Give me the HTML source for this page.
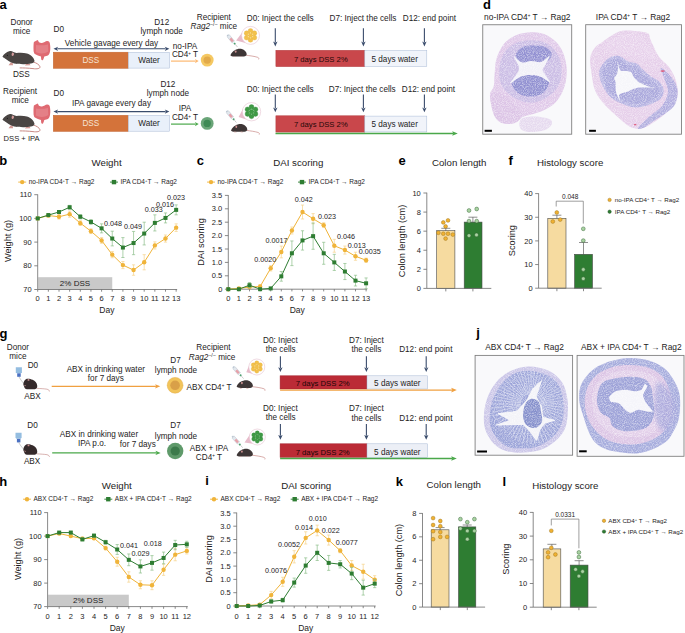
<!DOCTYPE html>
<html><head><meta charset="utf-8"><style>
html,body{margin:0;padding:0;background:#fff;width:685px;height:633px;overflow:hidden}
svg{display:block;font-family:"Liberation Sans",sans-serif}
</style></head><body>
<svg width="685" height="633" viewBox="0 0 685 633">
<defs><filter id="soft" x="-5%" y="-5%" width="110%" height="110%" color-interpolation-filters="sRGB"><feTurbulence type="fractalNoise" baseFrequency="1.1" numOctaves="1" seed="7" result="n"/><feColorMatrix in="n" type="matrix" values="0 0 0 0 1  0 0 0 0 1  0 0 0 0 1  0 0 0 -1.3 0.8" result="w"/><feComposite in="w" in2="SourceGraphic" operator="in" result="wc"/><feMerge result="m"><feMergeNode in="SourceGraphic"/><feMergeNode in="wc"/></feMerge><feGaussianBlur in="m" stdDeviation="0.35"/></filter><filter id="blur2" x="-20%" y="-20%" width="140%" height="140%"><feGaussianBlur stdDeviation="2.2"/></filter></defs>
<rect width="685" height="633" fill="#fff"/>
<text x="-0.60" y="9.00" font-size="13" text-anchor="start" font-weight="bold" fill="#000">a</text>
<text x="21.70" y="24.50" font-size="8.2" text-anchor="middle" fill="#1e1c1c">Donor</text>
<text x="21.70" y="33.50" font-size="8.2" text-anchor="middle" fill="#1e1c1c">mice</text>
<g transform="translate(0.00,45.00) scale(1.0)"><path d="M33.5,17 C36.5,18 39.5,19.8 40,21.8 C40.3,23.6 37,24.2 33,23.6 C28,23 23,22.9 19.7,22.9" fill="none" stroke="#c98a86" stroke-width="1.0"/><path d="M10.8,17.3 L8.5,20.2 L13,20.2 L12.8,18 Z M26,18.8 L25,20.4 L30.5,20.3 L29.5,18.6 Z" fill="#d39b96"/><path d="M2.6,11.2 C4,9 7,6.5 9.9,6.0 C12,5.5 14,7.6 16.4,7.9 C20,7.6 24,7.6 27,8.4 C31,9.5 34,12.5 34.5,15.8 C34.4,17.6 32.5,18.4 31,18.6 C28,19.2 25,19.3 23,19.2 C20,19.1 17.5,19 16,18.8 C13.5,18.3 11.5,17.6 10.3,17 C8,15.8 5.5,14 4,12.8 C3,12.4 2.4,11.8 2.6,11.2 Z" fill="#4a4543"/><ellipse cx="12.8" cy="9.3" rx="1.2" ry="1.7" fill="#d49c9c" transform="rotate(15 12.8 9.3)"/><circle cx="7.4" cy="10.2" r="0.55" fill="#111"/></g>
<g transform="translate(0.00,0.00)"><path d="M33.9,42.1 C35,41 36.5,40.8 37.5,40 C38.5,40.5 38.5,41.8 39,42.3 C40,42.8 41,43 42,42.9 C44,42.5 45.5,41.3 47,41 C48.5,40.8 49.5,41.8 49.8,43 C50.3,45.5 50.5,48.5 50.1,50.8 C49.8,52.8 49.3,54.5 48.2,55.3 C47,56 45.5,56.2 44.3,56.4 C44,57.5 43.6,59 43,60 C42.3,60.4 41.6,60.2 41.3,59.6 C41.1,58.5 41,57.3 41,56.4 C40,56.2 38.8,55.9 37.9,55.6 C36.5,55 35,54.5 34.3,53.6 C33.6,52 33.4,50.5 33.5,48.8 C33.5,46.5 33.5,44 33.9,42.1 Z" fill="#df6a72"/><path d="M36,45 C39,45.5 44,45.5 48,44.5 L48.3,51.5 C45,54 39,54 35.8,52 Z" fill="#ec9ca2" opacity="0.45"/></g>
<text x="21.30" y="77.00" font-size="8.2" text-anchor="middle" fill="#1e1c1c">DSS</text>
<text x="53.50" y="32.00" font-size="8.2" text-anchor="start" fill="#1e1c1c">D0</text>
<text x="111.50" y="45.50" font-size="8.2" text-anchor="middle" fill="#1e1c1c">Vehicle gavage every day</text>
<line x1="57.30" y1="48.80" x2="165.60" y2="48.80" stroke="#3a4c6c" stroke-width="1.1"/>
<path d="M169.40,48.80 L164.80,46.70 L166.00,48.80 L164.80,50.90 Z" fill="#3a4c6c"/>
<path d="M53.50,48.80 L58.10,46.70 L56.90,48.80 L58.10,50.90 Z" fill="#3a4c6c"/>
<rect x="53.30" y="52.20" width="75.00" height="16.10" fill="#d4733a" stroke="#c0622e" stroke-width="0.5"/>
<text x="90.80" y="63.00" font-size="8.2" text-anchor="middle" fill="#f6e3d4">DSS</text>
<rect x="128.30" y="52.30" width="41.30" height="15.80" fill="#e9f0fa" stroke="#a9bad6" stroke-width="0.5"/>
<text x="149.00" y="63.00" font-size="8.2" text-anchor="middle" fill="#1e1c1c">Water</text>
<text x="161.70" y="24.80" font-size="8.2" text-anchor="middle" fill="#1e1c1c">D12</text>
<text x="161.70" y="33.50" font-size="8.2" text-anchor="middle" fill="#1e1c1c">lymph node</text>
<text x="185.00" y="48.90" font-size="8.2" text-anchor="middle" fill="#1e1c1c">no-IPA</text>
<text x="185.00" y="57.30" font-size="8.2" text-anchor="middle" fill="#1e1c1c">CD4<tspan dy="-2.6" font-size="4.5">+</tspan><tspan dy="2.6"> T</tspan></text>
<line x1="171.00" y1="61.10" x2="195.70" y2="61.10" stroke="#fdb870" stroke-width="1.2"/>
<path d="M198.70,61.10 L194.90,59.01 L195.90,61.10 L194.90,63.19 Z" fill="#fdb870"/>
<circle cx="207.20" cy="60.10" r="6.40" fill="#f5c862" stroke="none" stroke-width="0.5"/>
<circle cx="207.20" cy="60.10" r="3.70" fill="#e2aa4a" stroke="none" stroke-width="0.5"/>
<text x="213.80" y="19.90" font-size="8.2" text-anchor="middle" fill="#1e1c1c">Recipient</text>
<text x="213.80" y="29.10" font-size="8.2" text-anchor="middle" fill="#1e1c1c"><tspan font-style="italic">Rag2</tspan><tspan dy="-3" font-size="5.2">−/−</tspan><tspan dy="3"> mice</tspan></text>
<g transform="translate(227.40,34.80) rotate(50.5)"><rect x="0" y="-1.0" width="1.2" height="2.0" fill="#b8c4d0"/><rect x="1.2" y="-1.5" width="8.19" height="3" fill="#e2e8ee" stroke="#9aa8b8" stroke-width="0.3"/><rect x="4.62" y="-1.2" width="3.96" height="2.4" fill="#e6a0a8"/><rect x="10.57" y="-0.9" width="1.59" height="1.8" fill="#4aa070"/><line x1="11.89" y1="0" x2="15.86" y2="0" stroke="#8a8a8a" stroke-width="0.4"/></g>
<g transform="translate(230.40,55.20) scale(1.0)"><path d="M15.5,0 C19,0.5 24,1 27.5,2.2 C28.5,2.7 28.6,3.5 28.2,4.2" fill="none" stroke="#c98a86" stroke-width="0.7"/><path d="M0,0 C1,-2.5 2.5,-4 4.5,-5 C6.5,-6.3 9,-6.8 11.5,-6.2 C14,-5.5 16,-3.5 16.3,-1.2 C16.4,0.3 15,1.2 13.5,1.3 L4,1.3 C2,1.2 0.3,0.8 0,0 Z" fill="#3e3636"/><ellipse cx="5.3" cy="-3.6" rx="0.9" ry="1.2" fill="#c98f8f"/><path d="M3.5,1.2 L3,1.9 L6,1.9 Z M10,1.2 L9.6,1.9 L12.6,1.9 Z" fill="#c98a86"/></g>
<path d="M236.10,40.50 L242.40,32.25 L245.55,43.05 Z" fill="#e7bccb"/>
<circle cx="250.50" cy="35.40" r="9.00" fill="#fff" stroke="#e6c3d0" stroke-width="0.6"/>
<circle cx="250.50" cy="35.40" r="2.43" fill="#f3c14b" stroke="#e0aa35" stroke-width="0.3"/>
<circle cx="254.39" cy="37.65" r="2.43" fill="#f3c14b" stroke="#e0aa35" stroke-width="0.3"/>
<circle cx="250.50" cy="39.90" r="2.43" fill="#f3c14b" stroke="#e0aa35" stroke-width="0.3"/>
<circle cx="246.61" cy="37.65" r="2.43" fill="#f3c14b" stroke="#e0aa35" stroke-width="0.3"/>
<circle cx="246.61" cy="33.15" r="2.43" fill="#f3c14b" stroke="#e0aa35" stroke-width="0.3"/>
<circle cx="250.50" cy="30.90" r="2.43" fill="#f3c14b" stroke="#e0aa35" stroke-width="0.3"/>
<circle cx="254.39" cy="33.15" r="2.43" fill="#f3c14b" stroke="#e0aa35" stroke-width="0.3"/>
<circle cx="252.64" cy="36.64" r="0.61" fill="#fbe3a0" stroke="none" stroke-width="0.5"/>
<circle cx="250.50" cy="37.87" r="0.61" fill="#fbe3a0" stroke="none" stroke-width="0.5"/>
<circle cx="248.36" cy="36.64" r="0.61" fill="#fbe3a0" stroke="none" stroke-width="0.5"/>
<circle cx="248.36" cy="34.16" r="0.61" fill="#fbe3a0" stroke="none" stroke-width="0.5"/>
<circle cx="250.50" cy="32.93" r="0.61" fill="#fbe3a0" stroke="none" stroke-width="0.5"/>
<circle cx="252.64" cy="34.16" r="0.61" fill="#fbe3a0" stroke="none" stroke-width="0.5"/>
<text x="246.80" y="21.30" font-size="8.2" text-anchor="start" fill="#1e1c1c">D0: Inject the cells</text>
<text x="329.50" y="21.30" font-size="8.2" text-anchor="start" fill="#1e1c1c">D7: Inject the cells</text>
<text x="402.80" y="21.30" font-size="8.2" text-anchor="start" fill="#1e1c1c">D12: end point</text>
<line x1="275.30" y1="28.30" x2="275.30" y2="42.40" stroke="#3a4c6c" stroke-width="1.1"/>
<path d="M275.30,46.40 L273.10,41.60 L275.30,42.80 L277.50,41.60 Z" fill="#3a4c6c"/>
<line x1="363.40" y1="28.30" x2="363.40" y2="42.40" stroke="#3a4c6c" stroke-width="1.1"/>
<path d="M363.40,46.40 L361.20,41.60 L363.40,42.80 L365.60,41.60 Z" fill="#3a4c6c"/>
<line x1="424.40" y1="28.30" x2="424.40" y2="42.40" stroke="#3a4c6c" stroke-width="1.1"/>
<path d="M424.40,46.40 L422.20,41.60 L424.40,42.80 L426.60,41.60 Z" fill="#3a4c6c"/>
<rect x="275.90" y="50.30" width="88.90" height="16.30" fill="#c9474b" stroke="#b23a3c" stroke-width="0.5"/>
<text x="320.80" y="61.60" font-size="7.7" text-anchor="middle" fill="#1e0808">7 days DSS 2%</text>
<rect x="364.80" y="50.60" width="62.00" height="15.80" fill="#f1f4fa" stroke="#a9bad6" stroke-width="0.5"/>
<text x="394.70" y="61.60" font-size="8.2" text-anchor="middle" fill="#1e1c1c">5 days water</text>
<text x="20.10" y="94.30" font-size="8.2" text-anchor="middle" fill="#1e1c1c">Recipient</text>
<text x="20.30" y="103.40" font-size="8.2" text-anchor="middle" fill="#1e1c1c">mice</text>
<g transform="translate(0.00,108.00) scale(1.0)"><path d="M33.5,17 C36.5,18 39.5,19.8 40,21.8 C40.3,23.6 37,24.2 33,23.6 C28,23 23,22.9 19.7,22.9" fill="none" stroke="#c98a86" stroke-width="1.0"/><path d="M10.8,17.3 L8.5,20.2 L13,20.2 L12.8,18 Z M26,18.8 L25,20.4 L30.5,20.3 L29.5,18.6 Z" fill="#d39b96"/><path d="M2.6,11.2 C4,9 7,6.5 9.9,6.0 C12,5.5 14,7.6 16.4,7.9 C20,7.6 24,7.6 27,8.4 C31,9.5 34,12.5 34.5,15.8 C34.4,17.6 32.5,18.4 31,18.6 C28,19.2 25,19.3 23,19.2 C20,19.1 17.5,19 16,18.8 C13.5,18.3 11.5,17.6 10.3,17 C8,15.8 5.5,14 4,12.8 C3,12.4 2.4,11.8 2.6,11.2 Z" fill="#4a4543"/><ellipse cx="12.8" cy="9.3" rx="1.2" ry="1.7" fill="#d49c9c" transform="rotate(15 12.8 9.3)"/><circle cx="7.4" cy="10.2" r="0.55" fill="#111"/></g>
<g transform="translate(0.00,63.50)"><path d="M33.9,42.1 C35,41 36.5,40.8 37.5,40 C38.5,40.5 38.5,41.8 39,42.3 C40,42.8 41,43 42,42.9 C44,42.5 45.5,41.3 47,41 C48.5,40.8 49.5,41.8 49.8,43 C50.3,45.5 50.5,48.5 50.1,50.8 C49.8,52.8 49.3,54.5 48.2,55.3 C47,56 45.5,56.2 44.3,56.4 C44,57.5 43.6,59 43,60 C42.3,60.4 41.6,60.2 41.3,59.6 C41.1,58.5 41,57.3 41,56.4 C40,56.2 38.8,55.9 37.9,55.6 C36.5,55 35,54.5 34.3,53.6 C33.6,52 33.4,50.5 33.5,48.8 C33.5,46.5 33.5,44 33.9,42.1 Z" fill="#df6a72"/><path d="M36,45 C39,45.5 44,45.5 48,44.5 L48.3,51.5 C45,54 39,54 35.8,52 Z" fill="#ec9ca2" opacity="0.45"/></g>
<text x="21.60" y="140.70" font-size="7.6" text-anchor="middle" fill="#1e1c1c">DSS + IPA</text>
<text x="53.50" y="96.00" font-size="8.2" text-anchor="start" fill="#1e1c1c">D0</text>
<text x="111.50" y="106.00" font-size="8.2" text-anchor="middle" fill="#1e1c1c">IPA gavage every day</text>
<line x1="57.30" y1="111.60" x2="165.60" y2="111.60" stroke="#3a4c6c" stroke-width="1.1"/>
<path d="M169.40,111.60 L164.80,109.50 L166.00,111.60 L164.80,113.70 Z" fill="#3a4c6c"/>
<path d="M53.50,111.60 L58.10,109.50 L56.90,111.60 L58.10,113.70 Z" fill="#3a4c6c"/>
<rect x="53.30" y="115.30" width="75.00" height="16.10" fill="#d4733a" stroke="#c0622e" stroke-width="0.5"/>
<text x="90.80" y="126.10" font-size="8.2" text-anchor="middle" fill="#f6e3d4">DSS</text>
<rect x="128.30" y="115.40" width="41.30" height="15.80" fill="#e9f0fa" stroke="#a9bad6" stroke-width="0.5"/>
<text x="149.00" y="126.10" font-size="8.2" text-anchor="middle" fill="#1e1c1c">Water</text>
<text x="167.90" y="86.90" font-size="8.2" text-anchor="middle" fill="#1e1c1c">D12</text>
<text x="167.90" y="96.00" font-size="8.2" text-anchor="middle" fill="#1e1c1c">lymph node</text>
<text x="185.00" y="111.40" font-size="8.2" text-anchor="middle" fill="#1e1c1c">IPA</text>
<text x="185.00" y="120.10" font-size="8.2" text-anchor="middle" fill="#1e1c1c">CD4<tspan dy="-2.6" font-size="4.5">+</tspan><tspan dy="2.6"> T</tspan></text>
<line x1="171.00" y1="124.10" x2="195.70" y2="124.10" stroke="#4aa84a" stroke-width="1.2"/>
<path d="M198.70,124.10 L194.90,122.01 L195.90,124.10 L194.90,126.19 Z" fill="#4aa84a"/>
<circle cx="207.20" cy="123.40" r="6.40" fill="#6aa578" stroke="none" stroke-width="0.5"/>
<circle cx="207.20" cy="123.40" r="3.70" fill="#3f8a55" stroke="none" stroke-width="0.5"/>
<g transform="translate(226.60,110.80) rotate(50.1)"><rect x="0" y="-1.0" width="1.2" height="2.0" fill="#b8c4d0"/><rect x="1.2" y="-1.5" width="7.92" height="3" fill="#e2e8ee" stroke="#9aa8b8" stroke-width="0.3"/><rect x="4.47" y="-1.2" width="3.83" height="2.4" fill="#e6a0a8"/><rect x="10.22" y="-0.9" width="1.53" height="1.8" fill="#4aa070"/><line x1="11.50" y1="0" x2="15.33" y2="0" stroke="#8a8a8a" stroke-width="0.4"/></g>
<g transform="translate(231.00,130.40) scale(1.0)"><path d="M15.5,0 C19,0.5 24,1 27.5,2.2 C28.5,2.7 28.6,3.5 28.2,4.2" fill="none" stroke="#c98a86" stroke-width="0.7"/><path d="M0,0 C1,-2.5 2.5,-4 4.5,-5 C6.5,-6.3 9,-6.8 11.5,-6.2 C14,-5.5 16,-3.5 16.3,-1.2 C16.4,0.3 15,1.2 13.5,1.3 L4,1.3 C2,1.2 0.3,0.8 0,0 Z" fill="#3e3636"/><ellipse cx="5.3" cy="-3.6" rx="0.9" ry="1.2" fill="#c98f8f"/><path d="M3.5,1.2 L3,1.9 L6,1.9 Z M10,1.2 L9.6,1.9 L12.6,1.9 Z" fill="#c98a86"/></g>
<path d="M238.60,117.10 L243.22,108.48 L246.44,119.52 Z" fill="#e7bccb"/>
<circle cx="251.50" cy="111.70" r="9.20" fill="#fff" stroke="#e6c3d0" stroke-width="0.6"/>
<circle cx="251.50" cy="111.70" r="2.48" fill="#3f9a45" stroke="#2f8035" stroke-width="0.3"/>
<circle cx="255.48" cy="114.00" r="2.48" fill="#3f9a45" stroke="#2f8035" stroke-width="0.3"/>
<circle cx="251.50" cy="116.30" r="2.48" fill="#3f9a45" stroke="#2f8035" stroke-width="0.3"/>
<circle cx="247.52" cy="114.00" r="2.48" fill="#3f9a45" stroke="#2f8035" stroke-width="0.3"/>
<circle cx="247.52" cy="109.40" r="2.48" fill="#3f9a45" stroke="#2f8035" stroke-width="0.3"/>
<circle cx="251.50" cy="107.10" r="2.48" fill="#3f9a45" stroke="#2f8035" stroke-width="0.3"/>
<circle cx="255.48" cy="109.40" r="2.48" fill="#3f9a45" stroke="#2f8035" stroke-width="0.3"/>
<circle cx="253.69" cy="112.96" r="0.62" fill="#7cc080" stroke="none" stroke-width="0.5"/>
<circle cx="251.50" cy="114.23" r="0.62" fill="#7cc080" stroke="none" stroke-width="0.5"/>
<circle cx="249.31" cy="112.96" r="0.62" fill="#7cc080" stroke="none" stroke-width="0.5"/>
<circle cx="249.31" cy="110.44" r="0.62" fill="#7cc080" stroke="none" stroke-width="0.5"/>
<circle cx="251.50" cy="109.17" r="0.62" fill="#7cc080" stroke="none" stroke-width="0.5"/>
<circle cx="253.69" cy="110.44" r="0.62" fill="#7cc080" stroke="none" stroke-width="0.5"/>
<text x="246.80" y="92.10" font-size="8.2" text-anchor="start" fill="#1e1c1c">D0: Inject the cells</text>
<text x="328.80" y="92.10" font-size="8.2" text-anchor="start" fill="#1e1c1c">D7: Inject the cells</text>
<text x="401.80" y="92.10" font-size="8.2" text-anchor="start" fill="#1e1c1c">D12: end point</text>
<line x1="275.30" y1="94.60" x2="275.30" y2="108.30" stroke="#3a4c6c" stroke-width="1.1"/>
<path d="M275.30,112.30 L273.10,107.50 L275.30,108.70 L277.50,107.50 Z" fill="#3a4c6c"/>
<line x1="363.40" y1="94.60" x2="363.40" y2="108.30" stroke="#3a4c6c" stroke-width="1.1"/>
<path d="M363.40,112.30 L361.20,107.50 L363.40,108.70 L365.60,107.50 Z" fill="#3a4c6c"/>
<line x1="424.40" y1="94.60" x2="424.40" y2="108.30" stroke="#3a4c6c" stroke-width="1.1"/>
<path d="M424.40,112.30 L422.20,107.50 L424.40,108.70 L426.60,107.50 Z" fill="#3a4c6c"/>
<rect x="275.90" y="115.80" width="88.90" height="16.30" fill="#c9474b" stroke="#b23a3c" stroke-width="0.5"/>
<text x="320.80" y="127.00" font-size="7.7" text-anchor="middle" fill="#1e0808">7 days DSS 2%</text>
<rect x="364.80" y="116.10" width="62.00" height="15.80" fill="#f1f4fa" stroke="#a9bad6" stroke-width="0.5"/>
<text x="394.70" y="127.00" font-size="8.2" text-anchor="middle" fill="#1e1c1c">5 days water</text>
<line x1="275.50" y1="133.50" x2="453.00" y2="133.50" stroke="#4aa84a" stroke-width="1.3"/>
<path d="M457.80,133.50 L452.20,131.20 L453.20,133.50 L452.20,135.80 Z" fill="#4aa84a"/>
<text x="-0.60" y="337.50" font-size="13" text-anchor="start" font-weight="bold" fill="#000">g</text>
<text x="17.90" y="349.90" font-size="8.2" text-anchor="middle" fill="#1e1c1c">Donor</text>
<text x="17.90" y="359.00" font-size="8.2" text-anchor="middle" fill="#1e1c1c">mice</text>
<text x="27.70" y="367.60" font-size="8.2" text-anchor="start" fill="#1e1c1c">D0</text>
<g transform="translate(0.00,0.00)"><path d="M15.8,367.2 L21.9,367.2 L21.9,372.2 L21,373.2 L16.7,373.2 L15.8,372.2 Z" fill="#94bde0"/><rect x="17.2" y="373.3" width="3.5" height="3.5" fill="#4a70c2"/><path d="M19,377 C20.5,379.5 22,381.5 23.6,383.3" fill="none" stroke="#8a8a8a" stroke-width="0.45"/></g>
<g transform="translate(0.00,0.00)"><path d="M36.5,388.3 C40,388.6 44.5,388.7 47,389.2 C48.6,389.6 49.6,390.5 49.4,391.5" fill="none" stroke="#c99490" stroke-width="0.7"/><path d="M23.3,383.8 C23.8,381.5 25,379.2 26.8,378.8 C28.5,378.4 30.8,379.1 32.6,379.8 C35.2,380.8 36.8,382.8 37.2,385.5 C37.5,387.6 36.6,389 34.8,389.2 L27,389.2 C25.2,389 24.2,387.5 24,386.2 C23.5,385.6 23.2,384.8 23.3,383.8 Z" fill="#352a2b"/><ellipse cx="28.5" cy="379.9" rx="1.0" ry="0.9" fill="#c98f8f"/><path d="M24.3,385 L24.8,386.2 L26.2,385.8 Z" fill="#d9a0a0"/></g>
<text x="32.40" y="399.30" font-size="8.2" text-anchor="middle" fill="#1e1c1c">ABX</text>
<text x="105.80" y="371.70" font-size="8.2" text-anchor="middle" fill="#1e1c1c">ABX in drinking water</text>
<text x="105.80" y="380.60" font-size="8.2" text-anchor="middle" fill="#1e1c1c">for 7 days</text>
<line x1="51.70" y1="386.30" x2="155.90" y2="386.30" stroke="#f0a040" stroke-width="1.2"/>
<path d="M160.30,386.30 L155.10,384.20 L156.10,386.30 L155.10,388.40 Z" fill="#f0a040"/>
<text x="175.60" y="362.90" font-size="8.2" text-anchor="middle" fill="#1e1c1c">D7</text>
<text x="176.00" y="372.50" font-size="8.2" text-anchor="middle" fill="#1e1c1c">lymph node</text>
<circle cx="175.10" cy="385.30" r="7.90" fill="#f2c45a" stroke="#e2ac48" stroke-width="0.5"/>
<circle cx="175.10" cy="385.30" r="4.80" fill="#d9a048" stroke="none" stroke-width="0.5"/>
<text x="209.00" y="389.80" font-size="8.2" text-anchor="middle" fill="#1e1c1c">ABX CD4<tspan dy="-2.6" font-size="4.5">+</tspan><tspan dy="2.6"> T</tspan></text>
<text x="213.40" y="350.00" font-size="8.2" text-anchor="middle" fill="#1e1c1c">Recipient</text>
<text x="212.10" y="359.60" font-size="8.2" text-anchor="middle" fill="#1e1c1c"><tspan font-style="italic">Rag2</tspan><tspan dy="-3" font-size="5.2">−/−</tspan><tspan dy="3"> mice</tspan></text>
<g transform="translate(233.10,366.70) rotate(48.7)"><rect x="0" y="-1.0" width="1.2" height="2.0" fill="#b8c4d0"/><rect x="1.2" y="-1.5" width="8.26" height="3" fill="#e2e8ee" stroke="#9aa8b8" stroke-width="0.3"/><rect x="4.66" y="-1.2" width="4.00" height="2.4" fill="#e6a0a8"/><rect x="10.66" y="-0.9" width="1.60" height="1.8" fill="#4aa070"/><line x1="11.99" y1="0" x2="15.98" y2="0" stroke="#8a8a8a" stroke-width="0.4"/></g>
<path d="M246.30,372.30 L249.60,364.20 L252.40,373.80 Z" fill="#e7bccb"/>
<circle cx="256.80" cy="367.00" r="8.00" fill="#fff" stroke="#e6c3d0" stroke-width="0.6"/>
<circle cx="256.80" cy="367.00" r="2.16" fill="#f3c14b" stroke="#e0aa35" stroke-width="0.3"/>
<circle cx="260.26" cy="369.00" r="2.16" fill="#f3c14b" stroke="#e0aa35" stroke-width="0.3"/>
<circle cx="256.80" cy="371.00" r="2.16" fill="#f3c14b" stroke="#e0aa35" stroke-width="0.3"/>
<circle cx="253.34" cy="369.00" r="2.16" fill="#f3c14b" stroke="#e0aa35" stroke-width="0.3"/>
<circle cx="253.34" cy="365.00" r="2.16" fill="#f3c14b" stroke="#e0aa35" stroke-width="0.3"/>
<circle cx="256.80" cy="363.00" r="2.16" fill="#f3c14b" stroke="#e0aa35" stroke-width="0.3"/>
<circle cx="260.26" cy="365.00" r="2.16" fill="#f3c14b" stroke="#e0aa35" stroke-width="0.3"/>
<circle cx="258.70" cy="368.10" r="0.54" fill="#fbe3a0" stroke="none" stroke-width="0.5"/>
<circle cx="256.80" cy="369.20" r="0.54" fill="#fbe3a0" stroke="none" stroke-width="0.5"/>
<circle cx="254.90" cy="368.10" r="0.54" fill="#fbe3a0" stroke="none" stroke-width="0.5"/>
<circle cx="254.90" cy="365.90" r="0.54" fill="#fbe3a0" stroke="none" stroke-width="0.5"/>
<circle cx="256.80" cy="364.80" r="0.54" fill="#fbe3a0" stroke="none" stroke-width="0.5"/>
<circle cx="258.70" cy="365.90" r="0.54" fill="#fbe3a0" stroke="none" stroke-width="0.5"/>
<g transform="translate(236.60,386.60) scale(1.0)"><path d="M15.5,0 C19,0.5 24,1 27.5,2.2 C28.5,2.7 28.6,3.5 28.2,4.2" fill="none" stroke="#c98a86" stroke-width="0.7"/><path d="M0,0 C1,-2.5 2.5,-4 4.5,-5 C6.5,-6.3 9,-6.8 11.5,-6.2 C14,-5.5 16,-3.5 16.3,-1.2 C16.4,0.3 15,1.2 13.5,1.3 L4,1.3 C2,1.2 0.3,0.8 0,0 Z" fill="#3e3636"/><ellipse cx="5.3" cy="-3.6" rx="0.9" ry="1.2" fill="#c98f8f"/><path d="M3.5,1.2 L3,1.9 L6,1.9 Z M10,1.2 L9.6,1.9 L12.6,1.9 Z" fill="#c98a86"/></g>
<text x="280.40" y="342.90" font-size="8.2" text-anchor="middle" fill="#1e1c1c">D0: Inject</text>
<text x="280.70" y="352.10" font-size="8.2" text-anchor="middle" fill="#1e1c1c">the cells</text>
<text x="366.40" y="342.90" font-size="8.2" text-anchor="middle" fill="#1e1c1c">D7: Inject</text>
<text x="366.40" y="352.40" font-size="8.2" text-anchor="middle" fill="#1e1c1c">the cells</text>
<text x="425.80" y="352.40" font-size="8.2" text-anchor="middle" fill="#1e1c1c">D12: end point</text>
<line x1="280.40" y1="356.20" x2="280.40" y2="368.00" stroke="#3a4c6c" stroke-width="1.1"/>
<path d="M280.40,372.00 L278.20,367.20 L280.40,368.40 L282.60,367.20 Z" fill="#3a4c6c"/>
<line x1="366.40" y1="356.20" x2="366.40" y2="368.00" stroke="#3a4c6c" stroke-width="1.1"/>
<path d="M366.40,372.00 L364.20,367.20 L366.40,368.40 L368.60,367.20 Z" fill="#3a4c6c"/>
<line x1="426.20" y1="356.20" x2="426.20" y2="368.00" stroke="#3a4c6c" stroke-width="1.1"/>
<path d="M426.20,372.00 L424.00,367.20 L426.20,368.40 L428.40,367.20 Z" fill="#3a4c6c"/>
<rect x="280.10" y="375.80" width="86.90" height="13.20" fill="#bb2b36" stroke="#a41f2a" stroke-width="0.5"/>
<text x="322.60" y="386.40" font-size="7.7" text-anchor="middle" fill="#1a0606">7 days DSS 2%</text>
<rect x="367.00" y="375.80" width="60.70" height="13.20" fill="#eceff6" stroke="#a9bad6" stroke-width="0.5"/>
<text x="397.30" y="386.40" font-size="8.2" text-anchor="middle" fill="#1e1c1c">5 days water</text>
<line x1="280.10" y1="390.10" x2="452.00" y2="390.10" stroke="#f0a040" stroke-width="1.4"/>
<path d="M456.80,390.10 L451.20,387.80 L452.20,390.10 L451.20,392.40 Z" fill="#f0a040"/>
<text x="32.50" y="428.30" font-size="8.2" text-anchor="middle" fill="#1e1c1c">D0</text>
<g transform="translate(-0.30,65.60)"><path d="M15.8,367.2 L21.9,367.2 L21.9,372.2 L21,373.2 L16.7,373.2 L15.8,372.2 Z" fill="#94bde0"/><rect x="17.2" y="373.3" width="3.5" height="3.5" fill="#4a70c2"/><path d="M19,377 C20.5,379.5 22,381.5 23.6,383.3" fill="none" stroke="#8a8a8a" stroke-width="0.45"/></g>
<g transform="translate(0.00,65.50)"><path d="M36.5,388.3 C40,388.6 44.5,388.7 47,389.2 C48.6,389.6 49.6,390.5 49.4,391.5" fill="none" stroke="#c99490" stroke-width="0.7"/><path d="M23.3,383.8 C23.8,381.5 25,379.2 26.8,378.8 C28.5,378.4 30.8,379.1 32.6,379.8 C35.2,380.8 36.8,382.8 37.2,385.5 C37.5,387.6 36.6,389 34.8,389.2 L27,389.2 C25.2,389 24.2,387.5 24,386.2 C23.5,385.6 23.2,384.8 23.3,383.8 Z" fill="#352a2b"/><ellipse cx="28.5" cy="379.9" rx="1.0" ry="0.9" fill="#c98f8f"/><path d="M24.3,385 L24.8,386.2 L26.2,385.8 Z" fill="#d9a0a0"/></g>
<text x="32.10" y="463.90" font-size="8.2" text-anchor="middle" fill="#1e1c1c">ABX</text>
<text x="99.00" y="437.30" font-size="8.2" text-anchor="middle" fill="#1e1c1c">ABX in drinking water</text>
<text x="92.00" y="445.80" font-size="8.2" text-anchor="middle" fill="#1e1c1c">IPA p.o.</text>
<text x="137.80" y="447.30" font-size="8.2" text-anchor="middle" fill="#1e1c1c">for 7 days</text>
<line x1="52.20" y1="452.90" x2="156.30" y2="452.90" stroke="#4aa84a" stroke-width="1.2"/>
<path d="M160.70,452.90 L155.50,450.80 L156.50,452.90 L155.50,455.00 Z" fill="#4aa84a"/>
<text x="175.60" y="428.30" font-size="8.2" text-anchor="middle" fill="#1e1c1c">D7</text>
<text x="176.00" y="438.50" font-size="8.2" text-anchor="middle" fill="#1e1c1c">lymph node</text>
<circle cx="175.20" cy="451.00" r="8.20" fill="#5f9a6a" stroke="none" stroke-width="0.5"/>
<circle cx="175.20" cy="451.00" r="4.60" fill="#3c7a4a" stroke="none" stroke-width="0.5"/>
<text x="209.00" y="451.20" font-size="8.2" text-anchor="middle" fill="#1e1c1c">ABX + IPA</text>
<text x="208.90" y="460.00" font-size="8.2" text-anchor="middle" fill="#1e1c1c">CD4<tspan dy="-2.6" font-size="4.5">+</tspan><tspan dy="2.6"> T</tspan></text>
<g transform="translate(232.30,436.20) rotate(47.8)"><rect x="0" y="-1.0" width="1.2" height="2.0" fill="#b8c4d0"/><rect x="1.2" y="-1.5" width="8.03" height="3" fill="#e2e8ee" stroke="#9aa8b8" stroke-width="0.3"/><rect x="4.53" y="-1.2" width="3.89" height="2.4" fill="#e6a0a8"/><rect x="10.36" y="-0.9" width="1.55" height="1.8" fill="#4aa070"/><line x1="11.66" y1="0" x2="15.55" y2="0" stroke="#8a8a8a" stroke-width="0.4"/></g>
<path d="M244.50,442.60 L250.10,434.20 L252.90,443.80 Z" fill="#e7bccb"/>
<circle cx="257.30" cy="437.00" r="8.00" fill="#fff" stroke="#e6c3d0" stroke-width="0.6"/>
<circle cx="257.30" cy="437.00" r="2.16" fill="#3f9a45" stroke="#2f8035" stroke-width="0.3"/>
<circle cx="260.76" cy="439.00" r="2.16" fill="#3f9a45" stroke="#2f8035" stroke-width="0.3"/>
<circle cx="257.30" cy="441.00" r="2.16" fill="#3f9a45" stroke="#2f8035" stroke-width="0.3"/>
<circle cx="253.84" cy="439.00" r="2.16" fill="#3f9a45" stroke="#2f8035" stroke-width="0.3"/>
<circle cx="253.84" cy="435.00" r="2.16" fill="#3f9a45" stroke="#2f8035" stroke-width="0.3"/>
<circle cx="257.30" cy="433.00" r="2.16" fill="#3f9a45" stroke="#2f8035" stroke-width="0.3"/>
<circle cx="260.76" cy="435.00" r="2.16" fill="#3f9a45" stroke="#2f8035" stroke-width="0.3"/>
<circle cx="259.20" cy="438.10" r="0.54" fill="#7cc080" stroke="none" stroke-width="0.5"/>
<circle cx="257.30" cy="439.20" r="0.54" fill="#7cc080" stroke="none" stroke-width="0.5"/>
<circle cx="255.40" cy="438.10" r="0.54" fill="#7cc080" stroke="none" stroke-width="0.5"/>
<circle cx="255.40" cy="435.90" r="0.54" fill="#7cc080" stroke="none" stroke-width="0.5"/>
<circle cx="257.30" cy="434.80" r="0.54" fill="#7cc080" stroke="none" stroke-width="0.5"/>
<circle cx="259.20" cy="435.90" r="0.54" fill="#7cc080" stroke="none" stroke-width="0.5"/>
<g transform="translate(236.60,455.20) scale(1.0)"><path d="M15.5,0 C19,0.5 24,1 27.5,2.2 C28.5,2.7 28.6,3.5 28.2,4.2" fill="none" stroke="#c98a86" stroke-width="0.7"/><path d="M0,0 C1,-2.5 2.5,-4 4.5,-5 C6.5,-6.3 9,-6.8 11.5,-6.2 C14,-5.5 16,-3.5 16.3,-1.2 C16.4,0.3 15,1.2 13.5,1.3 L4,1.3 C2,1.2 0.3,0.8 0,0 Z" fill="#3e3636"/><ellipse cx="5.3" cy="-3.6" rx="0.9" ry="1.2" fill="#c98f8f"/><path d="M3.5,1.2 L3,1.9 L6,1.9 Z M10,1.2 L9.6,1.9 L12.6,1.9 Z" fill="#c98a86"/></g>
<text x="280.40" y="411.20" font-size="8.2" text-anchor="middle" fill="#1e1c1c">D0: Inject</text>
<text x="280.70" y="420.30" font-size="8.2" text-anchor="middle" fill="#1e1c1c">the cells</text>
<text x="366.40" y="411.20" font-size="8.2" text-anchor="middle" fill="#1e1c1c">D7: Inject</text>
<text x="366.40" y="420.60" font-size="8.2" text-anchor="middle" fill="#1e1c1c">the cells</text>
<text x="425.80" y="420.60" font-size="8.2" text-anchor="middle" fill="#1e1c1c">D12: end point</text>
<line x1="280.40" y1="423.90" x2="280.40" y2="435.70" stroke="#3a4c6c" stroke-width="1.1"/>
<path d="M280.40,439.70 L278.20,434.90 L280.40,436.10 L282.60,434.90 Z" fill="#3a4c6c"/>
<line x1="366.40" y1="423.90" x2="366.40" y2="435.70" stroke="#3a4c6c" stroke-width="1.1"/>
<path d="M366.40,439.70 L364.20,434.90 L366.40,436.10 L368.60,434.90 Z" fill="#3a4c6c"/>
<line x1="426.20" y1="423.90" x2="426.20" y2="435.70" stroke="#3a4c6c" stroke-width="1.1"/>
<path d="M426.20,439.70 L424.00,434.90 L426.20,436.10 L428.40,434.90 Z" fill="#3a4c6c"/>
<rect x="280.10" y="443.80" width="86.90" height="13.50" fill="#bb2b36" stroke="#a41f2a" stroke-width="0.5"/>
<text x="322.60" y="454.60" font-size="7.7" text-anchor="middle" fill="#1a0606">7 days DSS 2%</text>
<rect x="367.00" y="443.80" width="60.70" height="13.50" fill="#eceff6" stroke="#a9bad6" stroke-width="0.5"/>
<text x="397.30" y="454.60" font-size="8.2" text-anchor="middle" fill="#1e1c1c">5 days water</text>
<line x1="280.10" y1="458.50" x2="452.00" y2="458.50" stroke="#4aa84a" stroke-width="1.4"/>
<path d="M456.80,458.50 L451.20,456.20 L452.20,458.50 L451.20,460.80 Z" fill="#4aa84a"/>
<text x="483.10" y="9.20" font-size="13" text-anchor="start" font-weight="bold" fill="#000">d</text>
<text x="527.30" y="19.70" font-size="8.4" text-anchor="middle" fill="#1e1c1c">no-IPA CD4<tspan dy="-2.6" font-size="4.5">+</tspan><tspan dy="2.6"> T → Rag2</tspan></text>
<text x="633.00" y="19.70" font-size="8.4" text-anchor="middle" fill="#1e1c1c">IPA CD4<tspan dy="-2.6" font-size="4.5">+</tspan><tspan dy="2.6"> T → Rag2</tspan></text>
<rect x="482.75" y="24.75" width="88.95" height="109.45" fill="#f9f9fb" stroke="#808080" stroke-width="0.9"/>
<g filter="url(#soft)">
<path d="M525.85,32.64 C530.13,32.18 535.93,31.87 540.52,33.00 C545.10,34.13 549.84,36.67 553.35,39.42 C556.87,42.17 559.47,45.38 561.61,49.51 C563.75,53.63 565.43,59.29 566.19,64.18 C566.96,69.07 566.80,74.26 566.19,78.85 C565.58,83.43 564.36,87.71 562.52,91.69 C560.69,95.66 558.24,99.63 555.19,102.69 C552.13,105.75 548.16,108.04 544.18,110.02 C540.21,112.01 535.02,113.39 531.35,114.61 C527.68,115.83 524.62,116.14 522.18,117.36 C519.73,118.58 519.12,120.88 516.68,121.94 C514.23,123.01 510.26,123.78 507.51,123.78 C504.76,123.78 502.31,123.63 500.17,121.94 C498.03,120.26 496.20,116.90 494.67,113.69 C493.14,110.48 491.77,106.05 491.00,102.69 C490.24,99.33 489.63,96.27 490.09,93.52 C490.54,90.77 492.99,89.55 493.75,86.18 C494.52,82.82 494.21,77.93 494.67,73.35 C495.13,68.76 494.98,63.57 496.50,58.68 C498.03,53.79 500.78,47.83 503.84,44.01 C506.90,40.19 511.18,37.65 514.84,35.75 C518.51,33.86 521.57,33.09 525.85,32.64 Z" fill="#e0c9e9" stroke="none" stroke-width="0.5"/>
<path d="M491.00,95.35 C492.53,92.45 498.34,93.21 502.01,94.44 C505.67,95.66 509.65,99.48 513.01,102.69 C516.37,105.90 521.57,110.48 522.18,113.69 C522.79,116.90 519.12,120.26 516.68,121.94 C514.23,123.63 510.56,123.93 507.51,123.78 C504.45,123.63 500.78,123.01 498.34,121.03 C495.89,119.04 494.06,116.14 492.84,111.86 C491.61,107.58 489.47,98.26 491.00,95.35 Z" fill="#dcc4e6" stroke="none" stroke-width="0.5"/>
<path d="M522.18,118.28 C524.78,116.90 530.43,116.29 535.02,116.44 C539.60,116.60 546.94,117.82 549.69,119.19 C552.44,120.57 552.44,122.86 551.52,124.70 C550.60,126.53 547.55,128.97 544.18,130.20 C540.82,131.42 535.02,132.03 531.35,132.03 C527.68,132.03 524.17,131.42 522.18,130.20 C520.19,128.97 519.43,126.68 519.43,124.70 C519.43,122.71 519.58,119.65 522.18,118.28 Z" fill="#e6daef" stroke="none" stroke-width="0.5"/>
<path d="M531.35,40.34 C536.70,40.49 543.27,41.26 547.85,44.01 C552.44,46.76 556.56,51.95 558.86,56.84 C561.15,61.73 561.91,68.15 561.61,73.35 C561.30,78.54 559.93,83.74 557.02,88.02 C554.12,92.30 548.77,96.58 544.18,99.02 C539.60,101.47 534.40,102.84 529.51,102.69 C524.62,102.54 519.43,100.86 514.84,98.10 C510.26,95.35 504.60,90.92 502.01,86.18 C499.41,81.45 498.95,75.18 499.26,69.68 C499.56,64.18 501.09,57.61 503.84,53.18 C506.59,48.74 511.18,45.23 515.76,43.09 C520.34,40.95 526.00,40.19 531.35,40.34 Z" fill="#cbbde5" stroke="none" stroke-width="0.5"/>
<path d="M517.00,52.00 C518.33,50.08 521.00,47.58 524.00,46.50 C527.00,45.42 531.50,45.42 535.00,45.50 C538.50,45.58 542.25,45.75 545.00,47.00 C547.75,48.25 550.83,50.83 551.50,53.00 C552.17,55.17 550.92,58.50 549.00,60.00 C547.08,61.50 543.17,61.50 540.00,62.00 C536.83,62.50 533.33,63.00 530.00,63.00 C526.67,63.00 522.33,62.83 520.00,62.00 C517.67,61.17 516.50,59.67 516.00,58.00 C515.50,56.33 515.67,53.92 517.00,52.00 Z" fill="#9391d2" stroke="none" stroke-width="0.5"/>
<path d="M512.00,80.00 C513.00,77.83 517.00,76.83 520.00,76.00 C523.00,75.17 526.67,75.00 530.00,75.00 C533.33,75.00 536.92,75.33 540.00,76.00 C543.08,76.67 547.17,77.33 548.50,79.00 C549.83,80.67 548.92,83.67 548.00,86.00 C547.08,88.33 545.50,91.25 543.00,93.00 C540.50,94.75 536.50,96.17 533.00,96.50 C529.50,96.83 525.17,96.25 522.00,95.00 C518.83,93.75 515.67,91.50 514.00,89.00 C512.33,86.50 511.00,82.17 512.00,80.00 Z" fill="#9190d1" stroke="none" stroke-width="0.5"/>
<path d="M514.00,56.50 C514.58,55.92 519.17,61.75 522.00,62.50 C524.83,63.25 527.83,61.08 531.00,61.00 C534.17,60.92 537.92,62.83 541.00,62.00 C544.08,61.17 548.83,55.42 549.50,56.00 C550.17,56.58 546.08,63.00 545.00,65.50 C543.92,68.00 542.17,68.25 543.00,71.00 C543.83,73.75 550.50,81.08 550.00,82.00 C549.50,82.92 543.17,77.67 540.00,76.50 C536.83,75.33 534.17,75.00 531.00,75.00 C527.83,75.00 524.50,75.08 521.00,76.50 C517.50,77.92 510.50,84.25 510.00,83.50 C509.50,82.75 516.58,74.92 518.00,72.00 C519.42,69.08 519.17,68.58 518.50,66.00 C517.83,63.42 513.42,57.08 514.00,56.50 Z" fill="#f2f1f8" stroke="none" stroke-width="0.5"/>
</g>
<rect x="484.60" y="129.80" width="7.30" height="2.00" fill="#000" stroke="none" stroke-width="0.5"/>
<rect x="585.70" y="24.70" width="95.80" height="109.50" fill="#f9f9fb" stroke="#808080" stroke-width="0.9"/>
<g filter="url(#soft)">
<path d="M602.16,42.16 C604.91,40.18 607.97,37.64 611.33,35.75 C614.69,33.85 618.05,31.56 622.32,30.80 C626.60,30.03 632.71,30.74 636.99,31.16 C641.26,31.59 645.69,31.84 647.98,33.36 C650.27,34.89 648.90,36.42 650.73,40.33 C652.56,44.24 656.08,52.55 658.98,56.82 C661.88,61.10 665.55,62.63 668.14,65.99 C670.74,69.35 672.97,73.01 674.56,76.99 C676.15,80.96 677.46,85.69 677.67,89.82 C677.89,93.94 677.43,98.22 675.84,101.73 C674.25,105.24 671.26,107.84 668.14,110.89 C665.03,113.95 660.81,117.40 657.15,120.06 C653.48,122.71 649.51,125.40 646.15,126.84 C642.79,128.27 640.04,128.89 636.99,128.67 C633.93,128.46 631.49,127.91 627.82,125.56 C624.16,123.20 619.27,118.53 614.99,114.56 C610.71,110.59 605.52,105.85 602.16,101.73 C598.80,97.60 596.60,94.55 594.83,89.82 C593.06,85.08 592.29,78.67 591.53,73.32 C590.77,67.97 589.70,62.02 590.25,57.74 C590.80,53.46 592.84,50.26 594.83,47.66 C596.82,45.06 599.41,44.15 602.16,42.16 Z" fill="#e6cfea" stroke="none" stroke-width="0.5"/>
<path d="M605.83,43.99 C607.97,40.94 617.13,36.36 622.32,34.83 C627.52,33.30 633.01,33.61 636.99,34.83 C640.96,36.05 643.09,38.50 646.15,42.16 C649.20,45.83 655.92,54.07 655.31,56.82 C654.70,59.57 647.98,59.27 642.48,58.66 C636.99,58.05 627.82,54.07 622.32,53.16 C616.82,52.24 612.24,54.69 609.49,53.16 C606.74,51.63 603.69,47.05 605.83,43.99 Z" fill="#e8d2ec" stroke="none" stroke-width="0.5"/>
<path d="M660.80,67.80 C662.13,67.80 669.22,74.30 672.00,78.00 C674.78,81.70 677.00,85.58 677.50,90.00 C678.00,94.42 676.92,100.67 675.00,104.50 C673.08,108.33 669.33,110.42 666.00,113.00 C662.67,115.58 658.62,117.60 655.00,120.00 C651.38,122.40 647.13,126.07 644.30,127.40 C641.47,128.73 637.05,129.90 638.00,128.00 C638.95,126.10 646.00,119.67 650.00,116.00 C654.00,112.33 659.00,110.00 662.00,106.00 C665.00,102.00 667.67,96.67 668.00,92.00 C668.33,87.33 665.20,82.03 664.00,78.00 C662.80,73.97 659.47,67.80 660.80,67.80 Z" fill="#b2aedf" stroke="none" stroke-width="0.5"/>
<path d="M599.40,70.40 C600.03,67.82 601.95,64.90 603.80,62.70 C605.65,60.50 607.92,58.30 610.50,57.20 C613.08,56.10 616.35,55.37 619.30,56.10 C622.25,56.83 625.25,60.32 628.20,61.60 C631.15,62.88 634.62,62.52 637.00,63.80 C639.38,65.08 640.28,67.27 642.50,69.30 C644.72,71.33 647.53,73.97 650.30,76.00 C653.07,78.03 656.88,79.30 659.10,81.50 C661.32,83.70 663.23,86.43 663.60,89.20 C663.97,91.97 663.15,95.70 661.30,98.10 C659.45,100.50 655.82,102.13 652.50,103.60 C649.18,105.07 644.90,106.35 641.40,106.90 C637.90,107.45 635.18,107.63 631.50,106.90 C627.82,106.17 622.98,104.33 619.30,102.50 C615.62,100.67 612.17,98.67 609.40,95.90 C606.63,93.13 604.27,88.85 602.70,85.90 C601.13,82.95 600.55,80.78 600.00,78.20 C599.45,75.62 598.77,72.98 599.40,70.40 Z" fill="#b6b3e2" stroke="none" stroke-width="0.5"/>
<path d="M603.00,72.00 C603.33,68.50 605.17,65.17 607.00,63.00 C608.83,60.83 611.67,59.50 614.00,59.00 C616.33,58.50 618.83,59.00 621.00,60.00 C623.17,61.00 624.50,63.83 627.00,65.00 C629.50,66.17 633.50,65.67 636.00,67.00 C638.50,68.33 639.67,70.83 642.00,73.00 C644.33,75.17 647.50,78.00 650.00,80.00 C652.50,82.00 655.50,83.00 657.00,85.00 C658.50,87.00 659.50,89.67 659.00,92.00 C658.50,94.33 656.83,97.17 654.00,99.00 C651.17,100.83 646.00,102.33 642.00,103.00 C638.00,103.67 633.67,103.67 630.00,103.00 C626.33,102.33 623.17,100.67 620.00,99.00 C616.83,97.33 613.50,95.50 611.00,93.00 C608.50,90.50 606.33,87.50 605.00,84.00 C603.67,80.50 602.67,75.50 603.00,72.00 Z" fill="#aaa8dc" stroke="none" stroke-width="0.5"/>
<path d="M617.10,60.50 C617.32,60.83 619.40,69.35 620.40,70.40 C621.40,71.45 625.99,70.78 627.10,71.00 C628.21,71.22 630.84,71.99 631.50,72.60 C632.16,73.21 632.93,76.10 633.70,77.10 C634.47,78.10 637.87,81.72 639.20,82.60 C640.53,83.48 645.39,85.35 647.00,85.90 C648.61,86.45 655.41,87.93 655.30,88.10 C655.19,88.27 647.51,87.65 645.90,87.60 C644.29,87.55 640.53,87.44 639.20,87.60 C637.87,87.76 633.70,88.82 632.60,89.20 C631.50,89.58 629.08,91.06 628.20,91.40 C627.32,91.74 624.72,92.24 623.80,92.60 C622.88,92.96 619.33,94.06 619.00,95.00 C618.67,95.94 620.80,102.30 620.50,102.00 C620.20,101.70 616.50,94.05 616.00,92.00 C615.50,89.95 615.66,82.88 615.50,81.50 C615.34,80.12 614.24,78.97 614.40,78.20 C614.56,77.43 616.72,74.91 617.10,73.80 C617.48,72.69 618.20,68.43 618.20,67.10 C618.20,65.77 616.88,60.17 617.10,60.50 Z" fill="#f6f6fa" stroke="none" stroke-width="0.5"/>
</g>
<ellipse cx="662.65" cy="71.12" rx="2.20" ry="0.80" fill="#e05a7a" opacity="1"/>
<ellipse cx="635.15" cy="124.64" rx="1.40" ry="0.70" fill="#e05a7a" opacity="1"/>
<rect x="589.10" y="129.80" width="6.80" height="2.00" fill="#000" stroke="none" stroke-width="0.5"/>
<text x="476.30" y="336.90" font-size="13" text-anchor="start" font-weight="bold" fill="#000">j</text>
<text x="524.50" y="350.30" font-size="8.4" text-anchor="middle" fill="#1e1c1c">ABX CD4<tspan dy="-2.6" font-size="4.5">+</tspan><tspan dy="2.6"> T → Rag2</tspan></text>
<text x="631.30" y="350.30" font-size="8.4" text-anchor="middle" fill="#1e1c1c">ABX + IPA CD4<tspan dy="-2.6" font-size="4.5">+</tspan><tspan dy="2.6"> T → Rag2</tspan></text>
<rect x="475.10" y="355.40" width="97.50" height="99.80" fill="#f9f9fb" stroke="#808080" stroke-width="0.9"/>
<g filter="url(#soft)">
<path d="M528.27,366.49 C534.80,366.35 543.04,368.06 548.73,370.76 C554.41,373.45 559.24,377.86 562.37,382.69 C565.49,387.52 566.63,394.06 567.48,399.74 C568.33,405.42 568.05,411.68 567.48,416.79 C566.91,421.91 566.34,426.17 564.07,430.43 C561.80,434.69 557.82,439.10 553.84,442.37 C549.86,445.63 545.32,448.33 540.20,450.04 C535.09,451.74 528.83,452.45 523.15,452.60 C517.47,452.74 510.93,452.31 506.10,450.89 C501.27,449.47 497.58,447.48 494.17,444.07 C490.76,440.66 487.35,435.26 485.64,430.43 C483.94,425.60 483.65,420.49 483.94,415.09 C484.22,409.69 485.36,403.44 487.35,398.04 C489.33,392.64 492.18,387.10 495.87,382.69 C499.56,378.29 504.11,374.31 509.51,371.61 C514.91,368.91 521.73,366.63 528.27,366.49 Z" fill="#cbc6e8" stroke="none" stroke-width="0.5"/>
<path d="M528.27,370.76 C533.95,370.90 541.91,372.60 547.02,375.02 C552.14,377.43 556.26,380.99 558.96,385.25 C561.66,389.51 562.51,395.34 563.22,400.59 C563.93,405.85 563.93,411.96 563.22,416.79 C562.51,421.62 561.23,425.74 558.96,429.58 C556.68,433.42 553.27,436.97 549.58,439.81 C545.88,442.65 541.20,445.21 536.79,446.63 C532.39,448.05 527.98,448.33 523.15,448.33 C518.32,448.33 512.07,448.19 507.81,446.63 C503.54,445.07 500.42,442.22 497.58,438.96 C494.73,435.69 492.03,431.28 490.76,427.02 C489.48,422.76 489.48,418.21 489.90,413.38 C490.33,408.55 491.47,402.87 493.31,398.04 C495.16,393.20 497.72,388.37 500.99,384.40 C504.25,380.42 508.37,376.44 512.92,374.17 C517.47,371.89 522.58,370.61 528.27,370.76 Z" fill="#9ca4d9" stroke="none" stroke-width="0.5"/>
<clipPath id="cj1"><path d="M528.27,370.76 C533.95,370.90 541.91,372.60 547.02,375.02 C552.14,377.43 556.26,380.99 558.96,385.25 C561.66,389.51 562.51,395.34 563.22,400.59 C563.93,405.85 563.93,411.96 563.22,416.79 C562.51,421.62 561.23,425.74 558.96,429.58 C556.68,433.42 553.27,436.97 549.58,439.81 C545.88,442.65 541.20,445.21 536.79,446.63 C532.39,448.05 527.98,448.33 523.15,448.33 C518.32,448.33 512.07,448.19 507.81,446.63 C503.54,445.07 500.42,442.22 497.58,438.96 C494.73,435.69 492.03,431.28 490.76,427.02 C489.48,422.76 489.48,418.21 489.90,413.38 C490.33,408.55 491.47,402.87 493.31,398.04 C495.16,393.20 497.72,388.37 500.99,384.40 C504.25,380.42 508.37,376.44 512.92,374.17 C517.47,371.89 522.58,370.61 528.27,370.76 Z"/></clipPath>
<path d="M541.0,404.0 L571.0,404.0 M540.9,405.0 L570.8,408.2 M540.8,406.1 L570.1,412.3 M540.5,407.1 L569.0,416.4 M540.1,408.1 L567.5,420.3 M539.7,409.0 L565.6,424.0 M539.1,409.9 L563.4,427.5 M538.4,410.7 L560.7,430.8 M537.7,411.4 L557.8,433.7 M536.9,412.1 L554.5,436.4 M536.0,412.7 L551.0,438.6 M535.1,413.1 L547.3,440.5 M534.1,413.5 L543.4,442.0 M533.1,413.8 L539.3,443.1 M532.0,413.9 L535.2,443.8 M531.0,414.0 L531.0,444.0 M530.0,413.9 L526.8,443.8 M528.9,413.8 L522.7,443.1 M527.9,413.5 L518.6,442.0 M526.9,413.1 L514.7,440.5 M526.0,412.7 L511.0,438.6 M525.1,412.1 L507.5,436.4 M524.3,411.4 L504.2,433.7 M523.6,410.7 L501.3,430.8 M522.9,409.9 L498.6,427.5 M522.3,409.0 L496.4,424.0 M521.9,408.1 L494.5,420.3 M521.5,407.1 L493.0,416.4 M521.2,406.1 L491.9,412.3 M521.1,405.0 L491.2,408.2 M521.0,404.0 L491.0,404.0 M521.1,403.0 L491.2,399.8 M521.2,401.9 L491.9,395.7 M521.5,400.9 L493.0,391.6 M521.9,399.9 L494.5,387.7 M522.3,399.0 L496.4,384.0 M522.9,398.1 L498.6,380.5 M523.6,397.3 L501.3,377.2 M524.3,396.6 L504.2,374.3 M525.1,395.9 L507.5,371.6 M526.0,395.3 L511.0,369.4 M526.9,394.9 L514.7,367.5 M527.9,394.5 L518.6,366.0 M528.9,394.2 L522.7,364.9 M530.0,394.1 L526.8,364.2 M531.0,394.0 L531.0,364.0 M532.0,394.1 L535.2,364.2 M533.1,394.2 L539.3,364.9 M534.1,394.5 L543.4,366.0 M535.1,394.9 L547.3,367.5 M536.0,395.3 L551.0,369.4 M536.9,395.9 L554.5,371.6 M537.7,396.6 L557.8,374.3 M538.4,397.3 L560.7,377.2 M539.1,398.1 L563.4,380.5 M539.7,399.0 L565.6,384.0 M540.1,399.9 L567.5,387.7 M540.5,400.9 L569.0,391.6 M540.8,401.9 L570.1,395.7 M540.9,403.0 L570.8,399.8" stroke="#e4e6f5" stroke-width="0.9" opacity="0.6" clip-path="url(#cj1)"/>
<path d="M541.91,380.13 C542.36,380.13 539.69,387.58 539.35,388.66 C539.01,389.74 536.62,395.14 536.79,396.33 C536.96,397.52 541.45,405.20 541.91,406.56 C542.36,407.92 542.70,415.88 543.61,416.79 C544.52,417.70 555.43,419.75 555.55,420.20 C555.66,420.66 546.34,422.93 545.32,423.61 C544.29,424.29 540.77,429.29 540.20,430.43 C539.63,431.57 537.47,440.55 536.79,440.66 C536.11,440.78 530.88,433.16 529.97,432.14 C529.06,431.11 524.29,425.77 523.15,425.32 C522.01,424.86 514.85,425.32 512.92,425.32 C510.99,425.32 494.45,425.66 494.17,425.32 C493.88,424.98 508.43,421.00 508.66,420.20 C508.89,419.41 497.06,414.01 497.58,413.38 C498.09,412.76 514.40,411.73 516.33,410.82 C518.26,409.91 525.48,401.22 526.56,399.74 C527.64,398.26 531.51,389.97 532.53,388.66 C533.55,387.35 541.45,380.13 541.91,380.13 Z" fill="#f3f3f8" stroke="none" stroke-width="0.5"/>
<path d="M530.82,398.89 C533.10,398.32 536.79,399.31 538.50,401.45 C540.20,403.58 540.49,408.27 541.05,411.68 C541.62,415.09 542.90,419.21 541.91,421.91 C540.91,424.61 537.64,427.31 535.09,427.87 C532.53,428.44 528.55,427.16 526.56,425.32 C524.57,423.47 523.44,420.20 523.15,416.79 C522.87,413.38 523.58,407.84 524.86,404.86 C526.13,401.87 528.55,399.46 530.82,398.89 Z" fill="#8690cc" stroke="none" stroke-width="0.5"/>
</g>
<rect x="477.10" y="450.50" width="9.90" height="2.00" fill="#000" stroke="none" stroke-width="0.5"/>
<rect x="577.10" y="355.40" width="106.90" height="100.90" fill="#f9f9fb" stroke="#808080" stroke-width="0.9"/>
<g filter="url(#soft)">
<path d="M630.19,357.90 C636.37,357.90 643.89,358.98 649.53,360.64 C655.18,362.31 660.28,365.07 664.04,367.89 C667.80,370.72 669.68,373.81 672.10,377.57 C674.52,381.33 677.20,386.16 678.55,390.46 C679.89,394.76 680.16,398.52 680.16,403.36 C680.16,408.19 679.62,414.91 678.55,419.47 C677.47,424.04 675.59,427.27 673.71,430.76 C671.83,434.25 670.49,437.47 667.26,440.43 C664.04,443.38 659.21,446.34 654.37,448.49 C649.53,450.64 643.62,452.65 638.25,453.32 C632.88,454.00 627.51,453.19 622.13,452.52 C616.76,451.85 610.58,451.04 606.01,449.29 C601.45,447.55 597.69,445.13 594.73,442.04 C591.78,438.95 590.16,435.06 588.28,430.76 C586.40,426.46 584.92,421.09 583.45,416.25 C581.97,411.42 579.96,406.58 579.42,401.74 C578.88,396.91 579.01,391.54 580.22,387.24 C581.43,382.94 583.72,379.45 586.67,375.95 C589.63,372.46 593.66,368.84 597.95,366.28 C602.25,363.73 607.09,362.04 612.46,360.64 C617.83,359.24 624.01,357.90 630.19,357.90 Z" fill="#a6acdd" stroke="none" stroke-width="0.5"/>
<path d="M630.19,364.99 C636.10,365.07 642.95,366.01 647.92,367.57 C652.89,369.13 656.79,371.47 660.01,374.34 C663.23,377.22 665.38,380.79 667.26,384.82 C669.14,388.85 670.62,393.82 671.29,398.52 C671.97,403.22 671.97,408.46 671.29,413.03 C670.62,417.59 669.28,422.16 667.26,425.92 C665.25,429.68 662.70,432.91 659.21,435.59 C655.71,438.28 650.88,440.56 646.31,442.04 C641.74,443.52 636.91,444.32 631.80,444.46 C626.70,444.59 620.52,444.06 615.68,442.85 C610.85,441.64 606.55,439.76 602.79,437.21 C599.03,434.65 595.81,431.29 593.12,427.53 C590.43,423.77 588.07,418.94 586.67,414.64 C585.27,410.34 584.60,406.31 584.74,401.74 C584.87,397.18 585.54,391.67 587.48,387.24 C589.41,382.80 592.18,378.51 596.34,375.15 C600.51,371.79 606.82,368.78 612.46,367.09 C618.10,365.40 624.28,364.91 630.19,364.99 Z" fill="#dcc5e5" stroke="none" stroke-width="0.5"/>
<path d="M630.19,370.31 C635.30,370.45 641.74,371.25 646.31,372.73 C650.88,374.21 654.64,376.49 657.59,379.18 C660.55,381.86 662.56,385.09 664.04,388.85 C665.52,392.61 666.32,397.45 666.46,401.74 C666.59,406.04 666.06,410.61 664.85,414.64 C663.64,418.67 661.76,422.70 659.21,425.92 C656.65,429.15 653.56,432.10 649.53,433.98 C645.50,435.86 640.13,436.94 635.03,437.21 C629.92,437.47 623.74,436.80 618.91,435.59 C614.07,434.38 609.77,432.64 606.01,429.95 C602.25,427.27 598.63,423.37 596.34,419.47 C594.06,415.58 592.85,411.15 592.31,406.58 C591.78,402.01 591.64,396.64 593.12,392.07 C594.60,387.51 597.42,382.54 601.18,379.18 C604.94,375.82 610.85,373.40 615.68,371.92 C620.52,370.45 625.09,370.18 630.19,370.31 Z" fill="#e3d0ea" stroke="none" stroke-width="0.5"/>
<path d="M657.59,382.40 C660.15,380.25 666.59,386.97 669.68,390.46 C672.77,393.95 675.06,399.06 676.13,403.36 C677.20,407.65 676.94,412.22 676.13,416.25 C675.32,420.28 673.58,425.12 671.29,427.53 C669.01,429.95 664.98,432.10 662.43,430.76 C659.88,429.41 657.32,424.04 655.98,419.47 C654.64,414.91 654.10,409.53 654.37,403.36 C654.64,397.18 655.04,384.55 657.59,382.40 Z" fill="#a8a8dc" stroke="none" stroke-width="0.5" filter="url(#blur2)" opacity="0.85"/>
<path d="M597.95,392.07 C598.89,388.58 599.83,384.69 602.79,382.40 C605.74,380.12 611.12,379.31 615.68,378.37 C620.25,377.43 625.36,376.63 630.19,376.76 C635.03,376.89 641.21,377.43 644.70,379.18 C648.19,380.92 649.80,384.28 651.15,387.24 C652.49,390.19 652.22,393.42 652.76,396.91 C653.29,400.40 654.37,404.43 654.37,408.19 C654.37,411.95 654.10,416.25 652.76,419.47 C651.41,422.70 649.27,425.65 646.31,427.53 C643.36,429.41 639.06,430.22 635.03,430.76 C631.00,431.29 625.89,431.56 622.13,430.76 C618.37,429.95 614.61,428.07 612.46,425.92 C610.31,423.77 611.12,420.01 609.24,417.86 C607.36,415.71 603.19,415.44 601.18,413.03 C599.16,410.61 597.69,406.85 597.15,403.36 C596.61,399.86 597.01,395.57 597.95,392.07 Z" fill="#9da2d8" stroke="none" stroke-width="0.5"/>
<path d="M609.24,396.91 C609.72,395.86 614.07,391.99 615.68,391.27 C617.30,390.54 623.42,389.66 625.36,389.66 C627.29,389.66 633.42,391.27 635.03,391.27 C636.64,391.27 640.51,390.38 641.47,389.66 C642.44,388.93 644.13,384.34 644.70,384.01 C645.26,383.69 647.28,385.30 647.12,386.43 C646.95,387.56 643.17,393.60 643.09,395.30 C643.01,396.99 645.34,401.74 646.31,403.36 C647.28,404.97 652.76,410.61 652.76,411.42 C652.76,412.22 647.76,411.58 646.31,411.42 C644.86,411.25 639.86,409.64 638.25,409.80 C636.64,409.96 631.48,413.03 630.19,413.03 C628.90,413.03 626.48,410.77 625.36,409.80 C624.23,408.84 620.36,404.16 618.91,403.36 C617.46,402.55 611.82,402.39 610.85,401.74 C609.88,401.10 608.75,397.96 609.24,396.91 Z" fill="#f5f5fa" stroke="none" stroke-width="0.5"/>
</g>
<rect x="579.10" y="450.30" width="7.60" height="2.00" fill="#000" stroke="none" stroke-width="0.5"/>
<text x="-0.80" y="164.60" font-size="13" text-anchor="start" font-weight="bold" fill="#000">b</text>
<text x="106.60" y="165.80" font-size="9.7" text-anchor="middle" fill="#1e1c1c">Weight</text>
<line x1="18.20" y1="182.10" x2="26.20" y2="182.10" stroke="#f0b43a" stroke-width="0.9"/>
<circle cx="22.20" cy="182.10" r="2.20" fill="#f0b43a" stroke="none" stroke-width="0.5"/>
<text x="28.70" y="184.20" font-size="6.5" text-anchor="start" fill="#1e1c1c">no-IPA CD4<tspan dy="-2.4" font-size="4.2">+</tspan><tspan dy="2.4">T → Rag2</tspan></text>
<line x1="110.00" y1="182.10" x2="118.00" y2="182.10" stroke="#2e7d32" stroke-width="0.9"/>
<rect x="111.80" y="179.90" width="4.40" height="4.40" fill="#2e7d32" stroke="none" stroke-width="0.5"/>
<text x="120.50" y="184.20" font-size="6.5" text-anchor="start" fill="#1e1c1c">IPA CD4<tspan dy="-2.4" font-size="4.2">+</tspan><tspan dy="2.4">T → Rag2</tspan></text>
<rect x="38.20" y="277.20" width="74.05" height="12.30" fill="#c9c9c9" stroke="none" stroke-width="0.5"/>
<text x="74.97" y="285.50" font-size="8" text-anchor="middle" fill="#1e1c1c">2% DSS</text>
<line x1="37.70" y1="194.40" x2="37.70" y2="289.50" stroke="#6b6b6b" stroke-width="0.8"/>
<line x1="34.30" y1="289.50" x2="37.70" y2="289.50" stroke="#6b6b6b" stroke-width="0.8"/>
<text x="31.70" y="292.10" font-size="7.5" text-anchor="end" fill="#1e1c1c">70</text>
<line x1="34.30" y1="265.80" x2="37.70" y2="265.80" stroke="#6b6b6b" stroke-width="0.8"/>
<text x="31.70" y="268.40" font-size="7.5" text-anchor="end" fill="#1e1c1c">80</text>
<line x1="34.30" y1="242.10" x2="37.70" y2="242.10" stroke="#6b6b6b" stroke-width="0.8"/>
<text x="31.70" y="244.70" font-size="7.5" text-anchor="end" fill="#1e1c1c">90</text>
<line x1="34.30" y1="218.40" x2="37.70" y2="218.40" stroke="#6b6b6b" stroke-width="0.8"/>
<text x="31.70" y="221.00" font-size="7.5" text-anchor="end" fill="#1e1c1c">100</text>
<line x1="34.30" y1="194.70" x2="37.70" y2="194.70" stroke="#6b6b6b" stroke-width="0.8"/>
<text x="31.70" y="197.30" font-size="7.5" text-anchor="end" fill="#1e1c1c">110</text>
<line x1="37.70" y1="289.50" x2="177.15" y2="289.50" stroke="#6b6b6b" stroke-width="0.8"/>
<line x1="37.70" y1="289.50" x2="37.70" y2="291.70" stroke="#6b6b6b" stroke-width="0.8"/>
<text x="37.70" y="300.90" font-size="7.5" text-anchor="middle" fill="#1e1c1c">0</text>
<line x1="48.35" y1="289.50" x2="48.35" y2="291.70" stroke="#6b6b6b" stroke-width="0.8"/>
<text x="48.35" y="300.90" font-size="7.5" text-anchor="middle" fill="#1e1c1c">1</text>
<line x1="59.00" y1="289.50" x2="59.00" y2="291.70" stroke="#6b6b6b" stroke-width="0.8"/>
<text x="59.00" y="300.90" font-size="7.5" text-anchor="middle" fill="#1e1c1c">2</text>
<line x1="69.65" y1="289.50" x2="69.65" y2="291.70" stroke="#6b6b6b" stroke-width="0.8"/>
<text x="69.65" y="300.90" font-size="7.5" text-anchor="middle" fill="#1e1c1c">3</text>
<line x1="80.30" y1="289.50" x2="80.30" y2="291.70" stroke="#6b6b6b" stroke-width="0.8"/>
<text x="80.30" y="300.90" font-size="7.5" text-anchor="middle" fill="#1e1c1c">4</text>
<line x1="90.95" y1="289.50" x2="90.95" y2="291.70" stroke="#6b6b6b" stroke-width="0.8"/>
<text x="90.95" y="300.90" font-size="7.5" text-anchor="middle" fill="#1e1c1c">5</text>
<line x1="101.60" y1="289.50" x2="101.60" y2="291.70" stroke="#6b6b6b" stroke-width="0.8"/>
<text x="101.60" y="300.90" font-size="7.5" text-anchor="middle" fill="#1e1c1c">6</text>
<line x1="112.25" y1="289.50" x2="112.25" y2="291.70" stroke="#6b6b6b" stroke-width="0.8"/>
<text x="112.25" y="300.90" font-size="7.5" text-anchor="middle" fill="#1e1c1c">7</text>
<line x1="122.90" y1="289.50" x2="122.90" y2="291.70" stroke="#6b6b6b" stroke-width="0.8"/>
<text x="122.90" y="300.90" font-size="7.5" text-anchor="middle" fill="#1e1c1c">8</text>
<line x1="133.55" y1="289.50" x2="133.55" y2="291.70" stroke="#6b6b6b" stroke-width="0.8"/>
<text x="133.55" y="300.90" font-size="7.5" text-anchor="middle" fill="#1e1c1c">9</text>
<line x1="144.20" y1="289.50" x2="144.20" y2="291.70" stroke="#6b6b6b" stroke-width="0.8"/>
<text x="144.20" y="300.90" font-size="7.5" text-anchor="middle" fill="#1e1c1c">10</text>
<line x1="154.85" y1="289.50" x2="154.85" y2="291.70" stroke="#6b6b6b" stroke-width="0.8"/>
<text x="154.85" y="300.90" font-size="7.5" text-anchor="middle" fill="#1e1c1c">11</text>
<line x1="165.50" y1="289.50" x2="165.50" y2="291.70" stroke="#6b6b6b" stroke-width="0.8"/>
<text x="165.50" y="300.90" font-size="7.5" text-anchor="middle" fill="#1e1c1c">12</text>
<line x1="176.15" y1="289.50" x2="176.15" y2="291.70" stroke="#6b6b6b" stroke-width="0.8"/>
<text x="176.15" y="300.90" font-size="7.5" text-anchor="middle" fill="#1e1c1c">13</text>
<text x="106.93" y="312.90" font-size="8.5" text-anchor="middle" fill="#1e1c1c">Day</text>
<text transform="translate(10.50,241.00) rotate(-90)" font-size="9.2" text-anchor="middle" fill="#1e1c1c">Weight (g)</text>
<line x1="48.35" y1="214.13" x2="48.35" y2="216.98" stroke="#f6d38a" stroke-width="0.7"/>
<line x1="46.75" y1="214.13" x2="49.95" y2="214.13" stroke="#f6d38a" stroke-width="0.7"/>
<line x1="46.75" y1="216.98" x2="49.95" y2="216.98" stroke="#f6d38a" stroke-width="0.7"/>
<line x1="59.00" y1="214.37" x2="59.00" y2="219.11" stroke="#f6d38a" stroke-width="0.7"/>
<line x1="57.40" y1="214.37" x2="60.60" y2="214.37" stroke="#f6d38a" stroke-width="0.7"/>
<line x1="57.40" y1="219.11" x2="60.60" y2="219.11" stroke="#f6d38a" stroke-width="0.7"/>
<line x1="69.65" y1="211.05" x2="69.65" y2="217.22" stroke="#f6d38a" stroke-width="0.7"/>
<line x1="68.05" y1="211.05" x2="71.25" y2="211.05" stroke="#f6d38a" stroke-width="0.7"/>
<line x1="68.05" y1="217.22" x2="71.25" y2="217.22" stroke="#f6d38a" stroke-width="0.7"/>
<line x1="80.30" y1="220.77" x2="80.30" y2="225.51" stroke="#f6d38a" stroke-width="0.7"/>
<line x1="78.70" y1="220.77" x2="81.90" y2="220.77" stroke="#f6d38a" stroke-width="0.7"/>
<line x1="78.70" y1="225.51" x2="81.90" y2="225.51" stroke="#f6d38a" stroke-width="0.7"/>
<line x1="90.95" y1="228.83" x2="90.95" y2="233.57" stroke="#f6d38a" stroke-width="0.7"/>
<line x1="89.35" y1="228.83" x2="92.55" y2="228.83" stroke="#f6d38a" stroke-width="0.7"/>
<line x1="89.35" y1="233.57" x2="92.55" y2="233.57" stroke="#f6d38a" stroke-width="0.7"/>
<line x1="101.60" y1="237.60" x2="101.60" y2="243.28" stroke="#f6d38a" stroke-width="0.7"/>
<line x1="100.00" y1="237.60" x2="103.20" y2="237.60" stroke="#f6d38a" stroke-width="0.7"/>
<line x1="100.00" y1="243.28" x2="103.20" y2="243.28" stroke="#f6d38a" stroke-width="0.7"/>
<line x1="112.25" y1="251.58" x2="112.25" y2="257.74" stroke="#f6d38a" stroke-width="0.7"/>
<line x1="110.65" y1="251.58" x2="113.85" y2="251.58" stroke="#f6d38a" stroke-width="0.7"/>
<line x1="110.65" y1="257.74" x2="113.85" y2="257.74" stroke="#f6d38a" stroke-width="0.7"/>
<line x1="122.90" y1="261.53" x2="122.90" y2="268.64" stroke="#f6d38a" stroke-width="0.7"/>
<line x1="121.30" y1="261.53" x2="124.50" y2="261.53" stroke="#f6d38a" stroke-width="0.7"/>
<line x1="121.30" y1="268.64" x2="124.50" y2="268.64" stroke="#f6d38a" stroke-width="0.7"/>
<line x1="133.55" y1="264.85" x2="133.55" y2="275.28" stroke="#f6d38a" stroke-width="0.7"/>
<line x1="131.95" y1="264.85" x2="135.15" y2="264.85" stroke="#f6d38a" stroke-width="0.7"/>
<line x1="131.95" y1="275.28" x2="135.15" y2="275.28" stroke="#f6d38a" stroke-width="0.7"/>
<line x1="144.20" y1="254.66" x2="144.20" y2="269.83" stroke="#f6d38a" stroke-width="0.7"/>
<line x1="142.60" y1="254.66" x2="145.80" y2="254.66" stroke="#f6d38a" stroke-width="0.7"/>
<line x1="142.60" y1="269.83" x2="145.80" y2="269.83" stroke="#f6d38a" stroke-width="0.7"/>
<line x1="154.85" y1="241.86" x2="154.85" y2="248.97" stroke="#f6d38a" stroke-width="0.7"/>
<line x1="153.25" y1="241.86" x2="156.45" y2="241.86" stroke="#f6d38a" stroke-width="0.7"/>
<line x1="153.25" y1="248.97" x2="156.45" y2="248.97" stroke="#f6d38a" stroke-width="0.7"/>
<line x1="165.50" y1="234.99" x2="165.50" y2="242.10" stroke="#f6d38a" stroke-width="0.7"/>
<line x1="163.90" y1="234.99" x2="167.10" y2="234.99" stroke="#f6d38a" stroke-width="0.7"/>
<line x1="163.90" y1="242.10" x2="167.10" y2="242.10" stroke="#f6d38a" stroke-width="0.7"/>
<line x1="176.15" y1="223.85" x2="176.15" y2="231.44" stroke="#f6d38a" stroke-width="0.7"/>
<line x1="174.55" y1="223.85" x2="177.75" y2="223.85" stroke="#f6d38a" stroke-width="0.7"/>
<line x1="174.55" y1="231.44" x2="177.75" y2="231.44" stroke="#f6d38a" stroke-width="0.7"/>
<polyline points="37.70,218.40 48.35,215.56 59.00,216.74 69.65,214.13 80.30,223.14 90.95,231.20 101.60,240.44 112.25,254.66 122.90,265.09 133.55,270.07 144.20,262.25 154.85,245.42 165.50,238.54 176.15,227.64" fill="none" stroke="#f0b43a" stroke-width="1.0" stroke-linejoin="round"/>
<circle cx="37.70" cy="218.40" r="2.20" fill="#f0b43a" stroke="none" stroke-width="0.5"/>
<circle cx="48.35" cy="215.56" r="2.20" fill="#f0b43a" stroke="none" stroke-width="0.5"/>
<circle cx="59.00" cy="216.74" r="2.20" fill="#f0b43a" stroke="none" stroke-width="0.5"/>
<circle cx="69.65" cy="214.13" r="2.20" fill="#f0b43a" stroke="none" stroke-width="0.5"/>
<circle cx="80.30" cy="223.14" r="2.20" fill="#f0b43a" stroke="none" stroke-width="0.5"/>
<circle cx="90.95" cy="231.20" r="2.20" fill="#f0b43a" stroke="none" stroke-width="0.5"/>
<circle cx="101.60" cy="240.44" r="2.20" fill="#f0b43a" stroke="none" stroke-width="0.5"/>
<circle cx="112.25" cy="254.66" r="2.20" fill="#f0b43a" stroke="none" stroke-width="0.5"/>
<circle cx="122.90" cy="265.09" r="2.20" fill="#f0b43a" stroke="none" stroke-width="0.5"/>
<circle cx="133.55" cy="270.07" r="2.20" fill="#f0b43a" stroke="none" stroke-width="0.5"/>
<circle cx="144.20" cy="262.25" r="2.20" fill="#f0b43a" stroke="none" stroke-width="0.5"/>
<circle cx="154.85" cy="245.42" r="2.20" fill="#f0b43a" stroke="none" stroke-width="0.5"/>
<circle cx="165.50" cy="238.54" r="2.20" fill="#f0b43a" stroke="none" stroke-width="0.5"/>
<circle cx="176.15" cy="227.64" r="2.20" fill="#f0b43a" stroke="none" stroke-width="0.5"/>
<line x1="48.35" y1="214.37" x2="48.35" y2="215.79" stroke="#8cbf8a" stroke-width="0.7"/>
<line x1="46.75" y1="214.37" x2="49.95" y2="214.37" stroke="#8cbf8a" stroke-width="0.7"/>
<line x1="46.75" y1="215.79" x2="49.95" y2="215.79" stroke="#8cbf8a" stroke-width="0.7"/>
<line x1="59.00" y1="210.58" x2="59.00" y2="213.42" stroke="#8cbf8a" stroke-width="0.7"/>
<line x1="57.40" y1="210.58" x2="60.60" y2="210.58" stroke="#8cbf8a" stroke-width="0.7"/>
<line x1="57.40" y1="213.42" x2="60.60" y2="213.42" stroke="#8cbf8a" stroke-width="0.7"/>
<line x1="69.65" y1="205.37" x2="69.65" y2="209.16" stroke="#8cbf8a" stroke-width="0.7"/>
<line x1="68.05" y1="205.37" x2="71.25" y2="205.37" stroke="#8cbf8a" stroke-width="0.7"/>
<line x1="68.05" y1="209.16" x2="71.25" y2="209.16" stroke="#8cbf8a" stroke-width="0.7"/>
<line x1="80.30" y1="214.61" x2="80.30" y2="218.87" stroke="#8cbf8a" stroke-width="0.7"/>
<line x1="78.70" y1="214.61" x2="81.90" y2="214.61" stroke="#8cbf8a" stroke-width="0.7"/>
<line x1="78.70" y1="218.87" x2="81.90" y2="218.87" stroke="#8cbf8a" stroke-width="0.7"/>
<line x1="90.95" y1="219.58" x2="90.95" y2="224.32" stroke="#8cbf8a" stroke-width="0.7"/>
<line x1="89.35" y1="219.58" x2="92.55" y2="219.58" stroke="#8cbf8a" stroke-width="0.7"/>
<line x1="89.35" y1="224.32" x2="92.55" y2="224.32" stroke="#8cbf8a" stroke-width="0.7"/>
<line x1="101.60" y1="223.85" x2="101.60" y2="232.86" stroke="#8cbf8a" stroke-width="0.7"/>
<line x1="100.00" y1="223.85" x2="103.20" y2="223.85" stroke="#8cbf8a" stroke-width="0.7"/>
<line x1="100.00" y1="232.86" x2="103.20" y2="232.86" stroke="#8cbf8a" stroke-width="0.7"/>
<line x1="112.25" y1="231.20" x2="112.25" y2="245.89" stroke="#8cbf8a" stroke-width="0.7"/>
<line x1="110.65" y1="231.20" x2="113.85" y2="231.20" stroke="#8cbf8a" stroke-width="0.7"/>
<line x1="110.65" y1="245.89" x2="113.85" y2="245.89" stroke="#8cbf8a" stroke-width="0.7"/>
<line x1="122.90" y1="237.60" x2="122.90" y2="257.50" stroke="#8cbf8a" stroke-width="0.7"/>
<line x1="121.30" y1="237.60" x2="124.50" y2="237.60" stroke="#8cbf8a" stroke-width="0.7"/>
<line x1="121.30" y1="257.50" x2="124.50" y2="257.50" stroke="#8cbf8a" stroke-width="0.7"/>
<line x1="133.55" y1="231.44" x2="133.55" y2="254.66" stroke="#8cbf8a" stroke-width="0.7"/>
<line x1="131.95" y1="231.44" x2="135.15" y2="231.44" stroke="#8cbf8a" stroke-width="0.7"/>
<line x1="131.95" y1="254.66" x2="135.15" y2="254.66" stroke="#8cbf8a" stroke-width="0.7"/>
<line x1="144.20" y1="222.19" x2="144.20" y2="244.94" stroke="#8cbf8a" stroke-width="0.7"/>
<line x1="142.60" y1="222.19" x2="145.80" y2="222.19" stroke="#8cbf8a" stroke-width="0.7"/>
<line x1="142.60" y1="244.94" x2="145.80" y2="244.94" stroke="#8cbf8a" stroke-width="0.7"/>
<line x1="154.85" y1="214.85" x2="154.85" y2="230.96" stroke="#8cbf8a" stroke-width="0.7"/>
<line x1="153.25" y1="214.85" x2="156.45" y2="214.85" stroke="#8cbf8a" stroke-width="0.7"/>
<line x1="153.25" y1="230.96" x2="156.45" y2="230.96" stroke="#8cbf8a" stroke-width="0.7"/>
<line x1="165.50" y1="212.95" x2="165.50" y2="222.90" stroke="#8cbf8a" stroke-width="0.7"/>
<line x1="163.90" y1="212.95" x2="167.10" y2="212.95" stroke="#8cbf8a" stroke-width="0.7"/>
<line x1="163.90" y1="222.90" x2="167.10" y2="222.90" stroke="#8cbf8a" stroke-width="0.7"/>
<line x1="176.15" y1="204.89" x2="176.15" y2="214.84" stroke="#8cbf8a" stroke-width="0.7"/>
<line x1="174.55" y1="204.89" x2="177.75" y2="204.89" stroke="#8cbf8a" stroke-width="0.7"/>
<line x1="174.55" y1="214.84" x2="177.75" y2="214.84" stroke="#8cbf8a" stroke-width="0.7"/>
<polyline points="37.70,218.40 48.35,215.08 59.00,212.00 69.65,207.26 80.30,216.74 90.95,221.95 101.60,228.35 112.25,238.54 122.90,247.55 133.55,243.05 144.20,233.57 154.85,222.90 165.50,217.93 176.15,209.87" fill="none" stroke="#2e7d32" stroke-width="1.0" stroke-linejoin="round"/>
<rect x="35.70" y="216.40" width="4.00" height="4.00" fill="#2e7d32" stroke="none" stroke-width="0.5"/>
<rect x="46.35" y="213.08" width="4.00" height="4.00" fill="#2e7d32" stroke="none" stroke-width="0.5"/>
<rect x="57.00" y="210.00" width="4.00" height="4.00" fill="#2e7d32" stroke="none" stroke-width="0.5"/>
<rect x="67.65" y="205.26" width="4.00" height="4.00" fill="#2e7d32" stroke="none" stroke-width="0.5"/>
<rect x="78.30" y="214.74" width="4.00" height="4.00" fill="#2e7d32" stroke="none" stroke-width="0.5"/>
<rect x="88.95" y="219.95" width="4.00" height="4.00" fill="#2e7d32" stroke="none" stroke-width="0.5"/>
<rect x="99.60" y="226.35" width="4.00" height="4.00" fill="#2e7d32" stroke="none" stroke-width="0.5"/>
<rect x="110.25" y="236.54" width="4.00" height="4.00" fill="#2e7d32" stroke="none" stroke-width="0.5"/>
<rect x="120.90" y="245.55" width="4.00" height="4.00" fill="#2e7d32" stroke="none" stroke-width="0.5"/>
<rect x="131.55" y="241.05" width="4.00" height="4.00" fill="#2e7d32" stroke="none" stroke-width="0.5"/>
<rect x="142.20" y="231.57" width="4.00" height="4.00" fill="#2e7d32" stroke="none" stroke-width="0.5"/>
<rect x="152.85" y="220.90" width="4.00" height="4.00" fill="#2e7d32" stroke="none" stroke-width="0.5"/>
<rect x="163.50" y="215.93" width="4.00" height="4.00" fill="#2e7d32" stroke="none" stroke-width="0.5"/>
<rect x="174.15" y="207.87" width="4.00" height="4.00" fill="#2e7d32" stroke="none" stroke-width="0.5"/>
<text x="103.90" y="226.40" font-size="7.2" text-anchor="start" fill="#1e1c1c">0.048</text>
<text x="123.90" y="229.30" font-size="7.2" text-anchor="start" fill="#1e1c1c">0.049</text>
<text x="144.70" y="212.40" font-size="7.2" text-anchor="start" fill="#1e1c1c">0.033</text>
<text x="156.00" y="207.00" font-size="7.2" text-anchor="start" fill="#1e1c1c">0.016</text>
<text x="167.00" y="199.70" font-size="7.2" text-anchor="start" fill="#1e1c1c">0.023</text>
<text x="196.70" y="164.90" font-size="13" text-anchor="start" font-weight="bold" fill="#000">c</text>
<text x="298.30" y="165.80" font-size="9.7" text-anchor="middle" fill="#1e1c1c">DAI scoring</text>
<line x1="207.00" y1="182.10" x2="215.00" y2="182.10" stroke="#f0b43a" stroke-width="0.9"/>
<circle cx="211.00" cy="182.10" r="2.20" fill="#f0b43a" stroke="none" stroke-width="0.5"/>
<text x="217.50" y="184.20" font-size="6.5" text-anchor="start" fill="#1e1c1c">no-IPA CD4<tspan dy="-2.4" font-size="4.2">+</tspan><tspan dy="2.4">T → Rag2</tspan></text>
<line x1="298.00" y1="182.10" x2="306.00" y2="182.10" stroke="#2e7d32" stroke-width="0.9"/>
<rect x="299.80" y="179.90" width="4.40" height="4.40" fill="#2e7d32" stroke="none" stroke-width="0.5"/>
<text x="308.50" y="184.20" font-size="6.5" text-anchor="start" fill="#1e1c1c">IPA CD4<tspan dy="-2.4" font-size="4.2">+</tspan><tspan dy="2.4">T → Rag2</tspan></text>
<line x1="228.30" y1="195.10" x2="228.30" y2="289.20" stroke="#6b6b6b" stroke-width="0.8"/>
<line x1="224.90" y1="289.20" x2="228.30" y2="289.20" stroke="#6b6b6b" stroke-width="0.8"/>
<text x="222.30" y="291.80" font-size="7.5" text-anchor="end" fill="#1e1c1c">0</text>
<line x1="224.90" y1="275.80" x2="228.30" y2="275.80" stroke="#6b6b6b" stroke-width="0.8"/>
<text x="222.30" y="278.40" font-size="7.5" text-anchor="end" fill="#1e1c1c">0.5</text>
<line x1="224.90" y1="262.40" x2="228.30" y2="262.40" stroke="#6b6b6b" stroke-width="0.8"/>
<text x="222.30" y="265.00" font-size="7.5" text-anchor="end" fill="#1e1c1c">1.0</text>
<line x1="224.90" y1="249.00" x2="228.30" y2="249.00" stroke="#6b6b6b" stroke-width="0.8"/>
<text x="222.30" y="251.60" font-size="7.5" text-anchor="end" fill="#1e1c1c">1.5</text>
<line x1="224.90" y1="235.60" x2="228.30" y2="235.60" stroke="#6b6b6b" stroke-width="0.8"/>
<text x="222.30" y="238.20" font-size="7.5" text-anchor="end" fill="#1e1c1c">2.0</text>
<line x1="224.90" y1="222.20" x2="228.30" y2="222.20" stroke="#6b6b6b" stroke-width="0.8"/>
<text x="222.30" y="224.80" font-size="7.5" text-anchor="end" fill="#1e1c1c">2.5</text>
<line x1="224.90" y1="208.80" x2="228.30" y2="208.80" stroke="#6b6b6b" stroke-width="0.8"/>
<text x="222.30" y="211.40" font-size="7.5" text-anchor="end" fill="#1e1c1c">3.0</text>
<line x1="224.90" y1="195.40" x2="228.30" y2="195.40" stroke="#6b6b6b" stroke-width="0.8"/>
<text x="222.30" y="198.00" font-size="7.5" text-anchor="end" fill="#1e1c1c">3.5</text>
<line x1="228.30" y1="289.20" x2="367.10" y2="289.20" stroke="#6b6b6b" stroke-width="0.8"/>
<line x1="228.30" y1="289.20" x2="228.30" y2="291.40" stroke="#6b6b6b" stroke-width="0.8"/>
<text x="228.30" y="300.90" font-size="7.5" text-anchor="middle" fill="#1e1c1c">0</text>
<line x1="238.90" y1="289.20" x2="238.90" y2="291.40" stroke="#6b6b6b" stroke-width="0.8"/>
<text x="238.90" y="300.90" font-size="7.5" text-anchor="middle" fill="#1e1c1c">1</text>
<line x1="249.50" y1="289.20" x2="249.50" y2="291.40" stroke="#6b6b6b" stroke-width="0.8"/>
<text x="249.50" y="300.90" font-size="7.5" text-anchor="middle" fill="#1e1c1c">2</text>
<line x1="260.10" y1="289.20" x2="260.10" y2="291.40" stroke="#6b6b6b" stroke-width="0.8"/>
<text x="260.10" y="300.90" font-size="7.5" text-anchor="middle" fill="#1e1c1c">3</text>
<line x1="270.70" y1="289.20" x2="270.70" y2="291.40" stroke="#6b6b6b" stroke-width="0.8"/>
<text x="270.70" y="300.90" font-size="7.5" text-anchor="middle" fill="#1e1c1c">4</text>
<line x1="281.30" y1="289.20" x2="281.30" y2="291.40" stroke="#6b6b6b" stroke-width="0.8"/>
<text x="281.30" y="300.90" font-size="7.5" text-anchor="middle" fill="#1e1c1c">5</text>
<line x1="291.90" y1="289.20" x2="291.90" y2="291.40" stroke="#6b6b6b" stroke-width="0.8"/>
<text x="291.90" y="300.90" font-size="7.5" text-anchor="middle" fill="#1e1c1c">6</text>
<line x1="302.50" y1="289.20" x2="302.50" y2="291.40" stroke="#6b6b6b" stroke-width="0.8"/>
<text x="302.50" y="300.90" font-size="7.5" text-anchor="middle" fill="#1e1c1c">7</text>
<line x1="313.10" y1="289.20" x2="313.10" y2="291.40" stroke="#6b6b6b" stroke-width="0.8"/>
<text x="313.10" y="300.90" font-size="7.5" text-anchor="middle" fill="#1e1c1c">8</text>
<line x1="323.70" y1="289.20" x2="323.70" y2="291.40" stroke="#6b6b6b" stroke-width="0.8"/>
<text x="323.70" y="300.90" font-size="7.5" text-anchor="middle" fill="#1e1c1c">9</text>
<line x1="334.30" y1="289.20" x2="334.30" y2="291.40" stroke="#6b6b6b" stroke-width="0.8"/>
<text x="334.30" y="300.90" font-size="7.5" text-anchor="middle" fill="#1e1c1c">10</text>
<line x1="344.90" y1="289.20" x2="344.90" y2="291.40" stroke="#6b6b6b" stroke-width="0.8"/>
<text x="344.90" y="300.90" font-size="7.5" text-anchor="middle" fill="#1e1c1c">11</text>
<line x1="355.50" y1="289.20" x2="355.50" y2="291.40" stroke="#6b6b6b" stroke-width="0.8"/>
<text x="355.50" y="300.90" font-size="7.5" text-anchor="middle" fill="#1e1c1c">12</text>
<line x1="366.10" y1="289.20" x2="366.10" y2="291.40" stroke="#6b6b6b" stroke-width="0.8"/>
<text x="366.10" y="300.90" font-size="7.5" text-anchor="middle" fill="#1e1c1c">13</text>
<text x="297.20" y="312.90" font-size="8.5" text-anchor="middle" fill="#1e1c1c">Day</text>
<text transform="translate(203.50,242.00) rotate(-90)" font-size="9.2" text-anchor="middle" fill="#1e1c1c">DAI scoring</text>
<line x1="238.90" y1="287.86" x2="238.90" y2="288.93" stroke="#f6d38a" stroke-width="0.7"/>
<line x1="237.30" y1="287.86" x2="240.50" y2="287.86" stroke="#f6d38a" stroke-width="0.7"/>
<line x1="237.30" y1="288.93" x2="240.50" y2="288.93" stroke="#f6d38a" stroke-width="0.7"/>
<line x1="249.50" y1="285.72" x2="249.50" y2="288.40" stroke="#f6d38a" stroke-width="0.7"/>
<line x1="247.90" y1="285.72" x2="251.10" y2="285.72" stroke="#f6d38a" stroke-width="0.7"/>
<line x1="247.90" y1="288.40" x2="251.10" y2="288.40" stroke="#f6d38a" stroke-width="0.7"/>
<line x1="260.10" y1="284.91" x2="260.10" y2="288.13" stroke="#f6d38a" stroke-width="0.7"/>
<line x1="258.50" y1="284.91" x2="261.70" y2="284.91" stroke="#f6d38a" stroke-width="0.7"/>
<line x1="258.50" y1="288.13" x2="261.70" y2="288.13" stroke="#f6d38a" stroke-width="0.7"/>
<line x1="270.70" y1="265.62" x2="270.70" y2="270.98" stroke="#f6d38a" stroke-width="0.7"/>
<line x1="269.10" y1="265.62" x2="272.30" y2="265.62" stroke="#f6d38a" stroke-width="0.7"/>
<line x1="269.10" y1="270.98" x2="272.30" y2="270.98" stroke="#f6d38a" stroke-width="0.7"/>
<line x1="281.30" y1="246.05" x2="281.30" y2="257.84" stroke="#f6d38a" stroke-width="0.7"/>
<line x1="279.70" y1="246.05" x2="282.90" y2="246.05" stroke="#f6d38a" stroke-width="0.7"/>
<line x1="279.70" y1="257.84" x2="282.90" y2="257.84" stroke="#f6d38a" stroke-width="0.7"/>
<line x1="291.90" y1="227.02" x2="291.90" y2="233.99" stroke="#f6d38a" stroke-width="0.7"/>
<line x1="290.30" y1="227.02" x2="293.50" y2="227.02" stroke="#f6d38a" stroke-width="0.7"/>
<line x1="290.30" y1="233.99" x2="293.50" y2="233.99" stroke="#f6d38a" stroke-width="0.7"/>
<line x1="302.50" y1="205.05" x2="302.50" y2="218.98" stroke="#f6d38a" stroke-width="0.7"/>
<line x1="300.90" y1="205.05" x2="304.10" y2="205.05" stroke="#f6d38a" stroke-width="0.7"/>
<line x1="300.90" y1="218.98" x2="304.10" y2="218.98" stroke="#f6d38a" stroke-width="0.7"/>
<line x1="313.10" y1="213.62" x2="313.10" y2="223.81" stroke="#f6d38a" stroke-width="0.7"/>
<line x1="311.50" y1="213.62" x2="314.70" y2="213.62" stroke="#f6d38a" stroke-width="0.7"/>
<line x1="311.50" y1="223.81" x2="314.70" y2="223.81" stroke="#f6d38a" stroke-width="0.7"/>
<line x1="323.70" y1="222.74" x2="323.70" y2="227.56" stroke="#f6d38a" stroke-width="0.7"/>
<line x1="322.10" y1="222.74" x2="325.30" y2="222.74" stroke="#f6d38a" stroke-width="0.7"/>
<line x1="322.10" y1="227.56" x2="325.30" y2="227.56" stroke="#f6d38a" stroke-width="0.7"/>
<line x1="334.30" y1="239.35" x2="334.30" y2="252.22" stroke="#f6d38a" stroke-width="0.7"/>
<line x1="332.70" y1="239.35" x2="335.90" y2="239.35" stroke="#f6d38a" stroke-width="0.7"/>
<line x1="332.70" y1="252.22" x2="335.90" y2="252.22" stroke="#f6d38a" stroke-width="0.7"/>
<line x1="344.90" y1="246.05" x2="344.90" y2="254.09" stroke="#f6d38a" stroke-width="0.7"/>
<line x1="343.30" y1="246.05" x2="346.50" y2="246.05" stroke="#f6d38a" stroke-width="0.7"/>
<line x1="343.30" y1="254.09" x2="346.50" y2="254.09" stroke="#f6d38a" stroke-width="0.7"/>
<line x1="355.50" y1="252.22" x2="355.50" y2="260.26" stroke="#f6d38a" stroke-width="0.7"/>
<line x1="353.90" y1="252.22" x2="357.10" y2="252.22" stroke="#f6d38a" stroke-width="0.7"/>
<line x1="353.90" y1="260.26" x2="357.10" y2="260.26" stroke="#f6d38a" stroke-width="0.7"/>
<line x1="366.10" y1="258.11" x2="366.10" y2="262.40" stroke="#f6d38a" stroke-width="0.7"/>
<line x1="364.50" y1="258.11" x2="367.70" y2="258.11" stroke="#f6d38a" stroke-width="0.7"/>
<line x1="364.50" y1="262.40" x2="367.70" y2="262.40" stroke="#f6d38a" stroke-width="0.7"/>
<polyline points="228.30,289.20 238.90,288.40 249.50,287.06 260.10,286.52 270.70,268.30 281.30,251.95 291.90,230.51 302.50,212.02 313.10,218.72 323.70,225.15 334.30,245.78 344.90,250.07 355.50,256.24 366.10,260.26" fill="none" stroke="#f0b43a" stroke-width="1.0" stroke-linejoin="round"/>
<circle cx="228.30" cy="289.20" r="2.20" fill="#f0b43a" stroke="none" stroke-width="0.5"/>
<circle cx="238.90" cy="288.40" r="2.20" fill="#f0b43a" stroke="none" stroke-width="0.5"/>
<circle cx="249.50" cy="287.06" r="2.20" fill="#f0b43a" stroke="none" stroke-width="0.5"/>
<circle cx="260.10" cy="286.52" r="2.20" fill="#f0b43a" stroke="none" stroke-width="0.5"/>
<circle cx="270.70" cy="268.30" r="2.20" fill="#f0b43a" stroke="none" stroke-width="0.5"/>
<circle cx="281.30" cy="251.95" r="2.20" fill="#f0b43a" stroke="none" stroke-width="0.5"/>
<circle cx="291.90" cy="230.51" r="2.20" fill="#f0b43a" stroke="none" stroke-width="0.5"/>
<circle cx="302.50" cy="212.02" r="2.20" fill="#f0b43a" stroke="none" stroke-width="0.5"/>
<circle cx="313.10" cy="218.72" r="2.20" fill="#f0b43a" stroke="none" stroke-width="0.5"/>
<circle cx="323.70" cy="225.15" r="2.20" fill="#f0b43a" stroke="none" stroke-width="0.5"/>
<circle cx="334.30" cy="245.78" r="2.20" fill="#f0b43a" stroke="none" stroke-width="0.5"/>
<circle cx="344.90" cy="250.07" r="2.20" fill="#f0b43a" stroke="none" stroke-width="0.5"/>
<circle cx="355.50" cy="256.24" r="2.20" fill="#f0b43a" stroke="none" stroke-width="0.5"/>
<circle cx="366.10" cy="260.26" r="2.20" fill="#f0b43a" stroke="none" stroke-width="0.5"/>
<line x1="249.50" y1="282.50" x2="249.50" y2="287.86" stroke="#8cbf8a" stroke-width="0.7"/>
<line x1="247.90" y1="282.50" x2="251.10" y2="282.50" stroke="#8cbf8a" stroke-width="0.7"/>
<line x1="247.90" y1="287.86" x2="251.10" y2="287.86" stroke="#8cbf8a" stroke-width="0.7"/>
<line x1="270.70" y1="287.86" x2="270.70" y2="288.93" stroke="#8cbf8a" stroke-width="0.7"/>
<line x1="269.10" y1="287.86" x2="272.30" y2="287.86" stroke="#8cbf8a" stroke-width="0.7"/>
<line x1="269.10" y1="288.93" x2="272.30" y2="288.93" stroke="#8cbf8a" stroke-width="0.7"/>
<line x1="281.30" y1="271.51" x2="281.30" y2="281.16" stroke="#8cbf8a" stroke-width="0.7"/>
<line x1="279.70" y1="271.51" x2="282.90" y2="271.51" stroke="#8cbf8a" stroke-width="0.7"/>
<line x1="279.70" y1="281.16" x2="282.90" y2="281.16" stroke="#8cbf8a" stroke-width="0.7"/>
<line x1="291.90" y1="240.96" x2="291.90" y2="265.62" stroke="#8cbf8a" stroke-width="0.7"/>
<line x1="290.30" y1="240.96" x2="293.50" y2="240.96" stroke="#8cbf8a" stroke-width="0.7"/>
<line x1="290.30" y1="265.62" x2="293.50" y2="265.62" stroke="#8cbf8a" stroke-width="0.7"/>
<line x1="302.50" y1="230.78" x2="302.50" y2="250.07" stroke="#8cbf8a" stroke-width="0.7"/>
<line x1="300.90" y1="230.78" x2="304.10" y2="230.78" stroke="#8cbf8a" stroke-width="0.7"/>
<line x1="300.90" y1="250.07" x2="304.10" y2="250.07" stroke="#8cbf8a" stroke-width="0.7"/>
<line x1="313.10" y1="223.00" x2="313.10" y2="249.27" stroke="#8cbf8a" stroke-width="0.7"/>
<line x1="311.50" y1="223.00" x2="314.70" y2="223.00" stroke="#8cbf8a" stroke-width="0.7"/>
<line x1="311.50" y1="249.27" x2="314.70" y2="249.27" stroke="#8cbf8a" stroke-width="0.7"/>
<line x1="323.70" y1="242.30" x2="323.70" y2="264.28" stroke="#8cbf8a" stroke-width="0.7"/>
<line x1="322.10" y1="242.30" x2="325.30" y2="242.30" stroke="#8cbf8a" stroke-width="0.7"/>
<line x1="322.10" y1="264.28" x2="325.30" y2="264.28" stroke="#8cbf8a" stroke-width="0.7"/>
<line x1="334.30" y1="254.36" x2="334.30" y2="270.44" stroke="#8cbf8a" stroke-width="0.7"/>
<line x1="332.70" y1="254.36" x2="335.90" y2="254.36" stroke="#8cbf8a" stroke-width="0.7"/>
<line x1="332.70" y1="270.44" x2="335.90" y2="270.44" stroke="#8cbf8a" stroke-width="0.7"/>
<line x1="344.90" y1="263.47" x2="344.90" y2="279.55" stroke="#8cbf8a" stroke-width="0.7"/>
<line x1="343.30" y1="263.47" x2="346.50" y2="263.47" stroke="#8cbf8a" stroke-width="0.7"/>
<line x1="343.30" y1="279.55" x2="346.50" y2="279.55" stroke="#8cbf8a" stroke-width="0.7"/>
<line x1="355.50" y1="275.26" x2="355.50" y2="285.98" stroke="#8cbf8a" stroke-width="0.7"/>
<line x1="353.90" y1="275.26" x2="357.10" y2="275.26" stroke="#8cbf8a" stroke-width="0.7"/>
<line x1="353.90" y1="285.98" x2="357.10" y2="285.98" stroke="#8cbf8a" stroke-width="0.7"/>
<line x1="366.10" y1="277.94" x2="366.10" y2="288.66" stroke="#8cbf8a" stroke-width="0.7"/>
<line x1="364.50" y1="277.94" x2="367.70" y2="277.94" stroke="#8cbf8a" stroke-width="0.7"/>
<line x1="364.50" y1="288.66" x2="367.70" y2="288.66" stroke="#8cbf8a" stroke-width="0.7"/>
<polyline points="228.30,289.20 238.90,289.20 249.50,285.18 260.10,289.20 270.70,288.40 281.30,276.34 291.90,253.29 302.50,240.42 313.10,236.14 323.70,253.29 334.30,262.40 344.90,271.51 355.50,280.62 366.10,283.30" fill="none" stroke="#2e7d32" stroke-width="1.0" stroke-linejoin="round"/>
<rect x="226.30" y="287.20" width="4.00" height="4.00" fill="#2e7d32" stroke="none" stroke-width="0.5"/>
<rect x="236.90" y="287.20" width="4.00" height="4.00" fill="#2e7d32" stroke="none" stroke-width="0.5"/>
<rect x="247.50" y="283.18" width="4.00" height="4.00" fill="#2e7d32" stroke="none" stroke-width="0.5"/>
<rect x="258.10" y="287.20" width="4.00" height="4.00" fill="#2e7d32" stroke="none" stroke-width="0.5"/>
<rect x="268.70" y="286.40" width="4.00" height="4.00" fill="#2e7d32" stroke="none" stroke-width="0.5"/>
<rect x="279.30" y="274.34" width="4.00" height="4.00" fill="#2e7d32" stroke="none" stroke-width="0.5"/>
<rect x="289.90" y="251.29" width="4.00" height="4.00" fill="#2e7d32" stroke="none" stroke-width="0.5"/>
<rect x="300.50" y="238.42" width="4.00" height="4.00" fill="#2e7d32" stroke="none" stroke-width="0.5"/>
<rect x="311.10" y="234.14" width="4.00" height="4.00" fill="#2e7d32" stroke="none" stroke-width="0.5"/>
<rect x="321.70" y="251.29" width="4.00" height="4.00" fill="#2e7d32" stroke="none" stroke-width="0.5"/>
<rect x="332.30" y="260.40" width="4.00" height="4.00" fill="#2e7d32" stroke="none" stroke-width="0.5"/>
<rect x="342.90" y="269.51" width="4.00" height="4.00" fill="#2e7d32" stroke="none" stroke-width="0.5"/>
<rect x="353.50" y="278.62" width="4.00" height="4.00" fill="#2e7d32" stroke="none" stroke-width="0.5"/>
<rect x="364.10" y="281.30" width="4.00" height="4.00" fill="#2e7d32" stroke="none" stroke-width="0.5"/>
<text x="294.70" y="201.70" font-size="7.2" text-anchor="start" fill="#1e1c1c">0.042</text>
<text x="318.00" y="218.90" font-size="7.2" text-anchor="start" fill="#1e1c1c">0.023</text>
<text x="265.40" y="242.90" font-size="7.2" text-anchor="start" fill="#1e1c1c">0.0017</text>
<text x="337.10" y="239.40" font-size="7.2" text-anchor="start" fill="#1e1c1c">0.046</text>
<text x="347.80" y="247.50" font-size="7.2" text-anchor="start" fill="#1e1c1c">0.013</text>
<text x="358.80" y="254.20" font-size="7.2" text-anchor="start" fill="#1e1c1c">0.0035</text>
<text x="254.20" y="261.80" font-size="7.2" text-anchor="start" fill="#1e1c1c">0.0020</text>
<text x="-0.80" y="485.80" font-size="13" text-anchor="start" font-weight="bold" fill="#000">h</text>
<text x="116.80" y="488.70" font-size="9.7" text-anchor="middle" fill="#1e1c1c">Weight</text>
<line x1="23.00" y1="499.20" x2="31.00" y2="499.20" stroke="#f0b43a" stroke-width="0.9"/>
<circle cx="27.00" cy="499.20" r="2.20" fill="#f0b43a" stroke="none" stroke-width="0.5"/>
<text x="33.50" y="501.30" font-size="6.5" text-anchor="start" fill="#1e1c1c">ABX CD4<tspan dy="-2.4" font-size="4.2">+</tspan><tspan dy="2.4">T → Rag2</tspan></text>
<line x1="104.30" y1="499.20" x2="112.30" y2="499.20" stroke="#2e7d32" stroke-width="0.9"/>
<rect x="106.10" y="497.00" width="4.40" height="4.40" fill="#2e7d32" stroke="none" stroke-width="0.5"/>
<text x="114.80" y="501.30" font-size="6.5" text-anchor="start" fill="#1e1c1c">ABX + IPA CD4<tspan dy="-2.4" font-size="4.2">+</tspan><tspan dy="2.4">T → Rag2</tspan></text>
<rect x="48.10" y="594.70" width="80.70" height="11.90" fill="#c9c9c9" stroke="none" stroke-width="0.5"/>
<text x="88.20" y="603.00" font-size="8" text-anchor="middle" fill="#1e1c1c">2% DSS</text>
<line x1="47.60" y1="512.30" x2="47.60" y2="606.60" stroke="#6b6b6b" stroke-width="0.8"/>
<line x1="44.20" y1="606.60" x2="47.60" y2="606.60" stroke="#6b6b6b" stroke-width="0.8"/>
<text x="41.60" y="609.20" font-size="7.5" text-anchor="end" fill="#1e1c1c">70</text>
<line x1="44.20" y1="583.10" x2="47.60" y2="583.10" stroke="#6b6b6b" stroke-width="0.8"/>
<text x="41.60" y="585.70" font-size="7.5" text-anchor="end" fill="#1e1c1c">80</text>
<line x1="44.20" y1="559.60" x2="47.60" y2="559.60" stroke="#6b6b6b" stroke-width="0.8"/>
<text x="41.60" y="562.20" font-size="7.5" text-anchor="end" fill="#1e1c1c">90</text>
<line x1="44.20" y1="536.10" x2="47.60" y2="536.10" stroke="#6b6b6b" stroke-width="0.8"/>
<text x="41.60" y="538.70" font-size="7.5" text-anchor="end" fill="#1e1c1c">100</text>
<line x1="44.20" y1="512.60" x2="47.60" y2="512.60" stroke="#6b6b6b" stroke-width="0.8"/>
<text x="41.60" y="515.20" font-size="7.5" text-anchor="end" fill="#1e1c1c">110</text>
<line x1="47.60" y1="606.60" x2="187.80" y2="606.60" stroke="#6b6b6b" stroke-width="0.8"/>
<line x1="47.60" y1="606.60" x2="47.60" y2="608.80" stroke="#6b6b6b" stroke-width="0.8"/>
<text x="47.60" y="619.00" font-size="7.5" text-anchor="middle" fill="#1e1c1c">0</text>
<line x1="59.20" y1="606.60" x2="59.20" y2="608.80" stroke="#6b6b6b" stroke-width="0.8"/>
<text x="59.20" y="619.00" font-size="7.5" text-anchor="middle" fill="#1e1c1c">1</text>
<line x1="70.80" y1="606.60" x2="70.80" y2="608.80" stroke="#6b6b6b" stroke-width="0.8"/>
<text x="70.80" y="619.00" font-size="7.5" text-anchor="middle" fill="#1e1c1c">2</text>
<line x1="82.40" y1="606.60" x2="82.40" y2="608.80" stroke="#6b6b6b" stroke-width="0.8"/>
<text x="82.40" y="619.00" font-size="7.5" text-anchor="middle" fill="#1e1c1c">3</text>
<line x1="94.00" y1="606.60" x2="94.00" y2="608.80" stroke="#6b6b6b" stroke-width="0.8"/>
<text x="94.00" y="619.00" font-size="7.5" text-anchor="middle" fill="#1e1c1c">4</text>
<line x1="105.60" y1="606.60" x2="105.60" y2="608.80" stroke="#6b6b6b" stroke-width="0.8"/>
<text x="105.60" y="619.00" font-size="7.5" text-anchor="middle" fill="#1e1c1c">5</text>
<line x1="117.20" y1="606.60" x2="117.20" y2="608.80" stroke="#6b6b6b" stroke-width="0.8"/>
<text x="117.20" y="619.00" font-size="7.5" text-anchor="middle" fill="#1e1c1c">6</text>
<line x1="128.80" y1="606.60" x2="128.80" y2="608.80" stroke="#6b6b6b" stroke-width="0.8"/>
<text x="128.80" y="619.00" font-size="7.5" text-anchor="middle" fill="#1e1c1c">7</text>
<line x1="140.40" y1="606.60" x2="140.40" y2="608.80" stroke="#6b6b6b" stroke-width="0.8"/>
<text x="140.40" y="619.00" font-size="7.5" text-anchor="middle" fill="#1e1c1c">8</text>
<line x1="152.00" y1="606.60" x2="152.00" y2="608.80" stroke="#6b6b6b" stroke-width="0.8"/>
<text x="152.00" y="619.00" font-size="7.5" text-anchor="middle" fill="#1e1c1c">9</text>
<line x1="163.60" y1="606.60" x2="163.60" y2="608.80" stroke="#6b6b6b" stroke-width="0.8"/>
<text x="163.60" y="619.00" font-size="7.5" text-anchor="middle" fill="#1e1c1c">10</text>
<line x1="175.20" y1="606.60" x2="175.20" y2="608.80" stroke="#6b6b6b" stroke-width="0.8"/>
<text x="175.20" y="619.00" font-size="7.5" text-anchor="middle" fill="#1e1c1c">11</text>
<line x1="186.80" y1="606.60" x2="186.80" y2="608.80" stroke="#6b6b6b" stroke-width="0.8"/>
<text x="186.80" y="619.00" font-size="7.5" text-anchor="middle" fill="#1e1c1c">12</text>
<text x="117.20" y="631.10" font-size="8.5" text-anchor="middle" fill="#1e1c1c">Day</text>
<text transform="translate(20.50,559.00) rotate(-90)" font-size="9.2" text-anchor="middle" fill="#1e1c1c">Weight (g)</text>
<line x1="59.20" y1="532.34" x2="59.20" y2="534.69" stroke="#f6d38a" stroke-width="0.7"/>
<line x1="57.60" y1="532.34" x2="60.80" y2="532.34" stroke="#f6d38a" stroke-width="0.7"/>
<line x1="57.60" y1="534.69" x2="60.80" y2="534.69" stroke="#f6d38a" stroke-width="0.7"/>
<line x1="70.80" y1="534.69" x2="70.80" y2="537.51" stroke="#f6d38a" stroke-width="0.7"/>
<line x1="69.20" y1="534.69" x2="72.40" y2="534.69" stroke="#f6d38a" stroke-width="0.7"/>
<line x1="69.20" y1="537.51" x2="72.40" y2="537.51" stroke="#f6d38a" stroke-width="0.7"/>
<line x1="82.40" y1="537.04" x2="82.40" y2="540.33" stroke="#f6d38a" stroke-width="0.7"/>
<line x1="80.80" y1="537.04" x2="84.00" y2="537.04" stroke="#f6d38a" stroke-width="0.7"/>
<line x1="80.80" y1="540.33" x2="84.00" y2="540.33" stroke="#f6d38a" stroke-width="0.7"/>
<line x1="94.00" y1="536.81" x2="94.00" y2="539.62" stroke="#f6d38a" stroke-width="0.7"/>
<line x1="92.40" y1="536.81" x2="95.60" y2="536.81" stroke="#f6d38a" stroke-width="0.7"/>
<line x1="92.40" y1="539.62" x2="95.60" y2="539.62" stroke="#f6d38a" stroke-width="0.7"/>
<line x1="105.60" y1="546.21" x2="105.60" y2="549.97" stroke="#f6d38a" stroke-width="0.7"/>
<line x1="104.00" y1="546.21" x2="107.20" y2="546.21" stroke="#f6d38a" stroke-width="0.7"/>
<line x1="104.00" y1="549.97" x2="107.20" y2="549.97" stroke="#f6d38a" stroke-width="0.7"/>
<line x1="117.20" y1="557.25" x2="117.20" y2="566.18" stroke="#f6d38a" stroke-width="0.7"/>
<line x1="115.60" y1="557.25" x2="118.80" y2="557.25" stroke="#f6d38a" stroke-width="0.7"/>
<line x1="115.60" y1="566.18" x2="118.80" y2="566.18" stroke="#f6d38a" stroke-width="0.7"/>
<line x1="128.80" y1="571.82" x2="128.80" y2="582.16" stroke="#f6d38a" stroke-width="0.7"/>
<line x1="127.20" y1="571.82" x2="130.40" y2="571.82" stroke="#f6d38a" stroke-width="0.7"/>
<line x1="127.20" y1="582.16" x2="130.40" y2="582.16" stroke="#f6d38a" stroke-width="0.7"/>
<line x1="140.40" y1="580.75" x2="140.40" y2="588.74" stroke="#f6d38a" stroke-width="0.7"/>
<line x1="138.80" y1="580.75" x2="142.00" y2="580.75" stroke="#f6d38a" stroke-width="0.7"/>
<line x1="138.80" y1="588.74" x2="142.00" y2="588.74" stroke="#f6d38a" stroke-width="0.7"/>
<line x1="152.00" y1="580.75" x2="152.00" y2="589.68" stroke="#f6d38a" stroke-width="0.7"/>
<line x1="150.40" y1="580.75" x2="153.60" y2="580.75" stroke="#f6d38a" stroke-width="0.7"/>
<line x1="150.40" y1="589.68" x2="153.60" y2="589.68" stroke="#f6d38a" stroke-width="0.7"/>
<line x1="163.60" y1="564.07" x2="163.60" y2="575.35" stroke="#f6d38a" stroke-width="0.7"/>
<line x1="162.00" y1="564.07" x2="165.20" y2="564.07" stroke="#f6d38a" stroke-width="0.7"/>
<line x1="162.00" y1="575.35" x2="165.20" y2="575.35" stroke="#f6d38a" stroke-width="0.7"/>
<line x1="175.20" y1="548.56" x2="175.20" y2="560.78" stroke="#f6d38a" stroke-width="0.7"/>
<line x1="173.60" y1="548.56" x2="176.80" y2="548.56" stroke="#f6d38a" stroke-width="0.7"/>
<line x1="173.60" y1="560.78" x2="176.80" y2="560.78" stroke="#f6d38a" stroke-width="0.7"/>
<line x1="186.80" y1="547.85" x2="186.80" y2="553.96" stroke="#f6d38a" stroke-width="0.7"/>
<line x1="185.20" y1="547.85" x2="188.40" y2="547.85" stroke="#f6d38a" stroke-width="0.7"/>
<line x1="185.20" y1="553.96" x2="188.40" y2="553.96" stroke="#f6d38a" stroke-width="0.7"/>
<polyline points="47.60,536.10 59.20,533.51 70.80,536.10 82.40,538.68 94.00,538.22 105.60,548.09 117.20,561.72 128.80,576.99 140.40,584.75 152.00,585.22 163.60,569.71 175.20,554.67 186.80,550.90" fill="none" stroke="#f0b43a" stroke-width="1.0" stroke-linejoin="round"/>
<circle cx="47.60" cy="536.10" r="2.20" fill="#f0b43a" stroke="none" stroke-width="0.5"/>
<circle cx="59.20" cy="533.51" r="2.20" fill="#f0b43a" stroke="none" stroke-width="0.5"/>
<circle cx="70.80" cy="536.10" r="2.20" fill="#f0b43a" stroke="none" stroke-width="0.5"/>
<circle cx="82.40" cy="538.68" r="2.20" fill="#f0b43a" stroke="none" stroke-width="0.5"/>
<circle cx="94.00" cy="538.22" r="2.20" fill="#f0b43a" stroke="none" stroke-width="0.5"/>
<circle cx="105.60" cy="548.09" r="2.20" fill="#f0b43a" stroke="none" stroke-width="0.5"/>
<circle cx="117.20" cy="561.72" r="2.20" fill="#f0b43a" stroke="none" stroke-width="0.5"/>
<circle cx="128.80" cy="576.99" r="2.20" fill="#f0b43a" stroke="none" stroke-width="0.5"/>
<circle cx="140.40" cy="584.75" r="2.20" fill="#f0b43a" stroke="none" stroke-width="0.5"/>
<circle cx="152.00" cy="585.22" r="2.20" fill="#f0b43a" stroke="none" stroke-width="0.5"/>
<circle cx="163.60" cy="569.71" r="2.20" fill="#f0b43a" stroke="none" stroke-width="0.5"/>
<circle cx="175.20" cy="554.67" r="2.20" fill="#f0b43a" stroke="none" stroke-width="0.5"/>
<circle cx="186.80" cy="550.90" r="2.20" fill="#f0b43a" stroke="none" stroke-width="0.5"/>
<line x1="59.20" y1="531.63" x2="59.20" y2="533.52" stroke="#8cbf8a" stroke-width="0.7"/>
<line x1="57.60" y1="531.63" x2="60.80" y2="531.63" stroke="#8cbf8a" stroke-width="0.7"/>
<line x1="57.60" y1="533.52" x2="60.80" y2="533.52" stroke="#8cbf8a" stroke-width="0.7"/>
<line x1="70.80" y1="531.40" x2="70.80" y2="533.75" stroke="#8cbf8a" stroke-width="0.7"/>
<line x1="69.20" y1="531.40" x2="72.40" y2="531.40" stroke="#8cbf8a" stroke-width="0.7"/>
<line x1="69.20" y1="533.75" x2="72.40" y2="533.75" stroke="#8cbf8a" stroke-width="0.7"/>
<line x1="82.40" y1="537.98" x2="82.40" y2="540.80" stroke="#8cbf8a" stroke-width="0.7"/>
<line x1="80.80" y1="537.98" x2="84.00" y2="537.98" stroke="#8cbf8a" stroke-width="0.7"/>
<line x1="80.80" y1="540.80" x2="84.00" y2="540.80" stroke="#8cbf8a" stroke-width="0.7"/>
<line x1="94.00" y1="534.22" x2="94.00" y2="537.04" stroke="#8cbf8a" stroke-width="0.7"/>
<line x1="92.40" y1="534.22" x2="95.60" y2="534.22" stroke="#8cbf8a" stroke-width="0.7"/>
<line x1="92.40" y1="537.04" x2="95.60" y2="537.04" stroke="#8cbf8a" stroke-width="0.7"/>
<line x1="105.60" y1="540.33" x2="105.60" y2="544.09" stroke="#8cbf8a" stroke-width="0.7"/>
<line x1="104.00" y1="540.33" x2="107.20" y2="540.33" stroke="#8cbf8a" stroke-width="0.7"/>
<line x1="104.00" y1="544.09" x2="107.20" y2="544.09" stroke="#8cbf8a" stroke-width="0.7"/>
<line x1="117.20" y1="544.56" x2="117.20" y2="554.43" stroke="#8cbf8a" stroke-width="0.7"/>
<line x1="115.60" y1="544.56" x2="118.80" y2="544.56" stroke="#8cbf8a" stroke-width="0.7"/>
<line x1="115.60" y1="554.43" x2="118.80" y2="554.43" stroke="#8cbf8a" stroke-width="0.7"/>
<line x1="128.80" y1="553.96" x2="128.80" y2="565.71" stroke="#8cbf8a" stroke-width="0.7"/>
<line x1="127.20" y1="553.96" x2="130.40" y2="553.96" stroke="#8cbf8a" stroke-width="0.7"/>
<line x1="127.20" y1="565.71" x2="130.40" y2="565.71" stroke="#8cbf8a" stroke-width="0.7"/>
<line x1="140.40" y1="559.84" x2="140.40" y2="573.00" stroke="#8cbf8a" stroke-width="0.7"/>
<line x1="138.80" y1="559.84" x2="142.00" y2="559.84" stroke="#8cbf8a" stroke-width="0.7"/>
<line x1="138.80" y1="573.00" x2="142.00" y2="573.00" stroke="#8cbf8a" stroke-width="0.7"/>
<line x1="152.00" y1="555.61" x2="152.00" y2="570.17" stroke="#8cbf8a" stroke-width="0.7"/>
<line x1="150.40" y1="555.61" x2="153.60" y2="555.61" stroke="#8cbf8a" stroke-width="0.7"/>
<line x1="150.40" y1="570.17" x2="153.60" y2="570.17" stroke="#8cbf8a" stroke-width="0.7"/>
<line x1="163.60" y1="552.08" x2="163.60" y2="563.83" stroke="#8cbf8a" stroke-width="0.7"/>
<line x1="162.00" y1="552.08" x2="165.20" y2="552.08" stroke="#8cbf8a" stroke-width="0.7"/>
<line x1="162.00" y1="563.83" x2="165.20" y2="563.83" stroke="#8cbf8a" stroke-width="0.7"/>
<line x1="175.20" y1="540.33" x2="175.20" y2="549.73" stroke="#8cbf8a" stroke-width="0.7"/>
<line x1="173.60" y1="540.33" x2="176.80" y2="540.33" stroke="#8cbf8a" stroke-width="0.7"/>
<line x1="173.60" y1="549.73" x2="176.80" y2="549.73" stroke="#8cbf8a" stroke-width="0.7"/>
<line x1="186.80" y1="541.27" x2="186.80" y2="547.38" stroke="#8cbf8a" stroke-width="0.7"/>
<line x1="185.20" y1="541.27" x2="188.40" y2="541.27" stroke="#8cbf8a" stroke-width="0.7"/>
<line x1="185.20" y1="547.38" x2="188.40" y2="547.38" stroke="#8cbf8a" stroke-width="0.7"/>
<polyline points="47.60,536.10 59.20,532.58 70.80,532.58 82.40,539.39 94.00,535.63 105.60,542.21 117.20,549.50 128.80,559.84 140.40,566.42 152.00,562.89 163.60,557.96 175.20,545.03 186.80,544.33" fill="none" stroke="#2e7d32" stroke-width="1.0" stroke-linejoin="round"/>
<rect x="45.60" y="534.10" width="4.00" height="4.00" fill="#2e7d32" stroke="none" stroke-width="0.5"/>
<rect x="57.20" y="530.58" width="4.00" height="4.00" fill="#2e7d32" stroke="none" stroke-width="0.5"/>
<rect x="68.80" y="530.58" width="4.00" height="4.00" fill="#2e7d32" stroke="none" stroke-width="0.5"/>
<rect x="80.40" y="537.39" width="4.00" height="4.00" fill="#2e7d32" stroke="none" stroke-width="0.5"/>
<rect x="92.00" y="533.63" width="4.00" height="4.00" fill="#2e7d32" stroke="none" stroke-width="0.5"/>
<rect x="103.60" y="540.21" width="4.00" height="4.00" fill="#2e7d32" stroke="none" stroke-width="0.5"/>
<rect x="115.20" y="547.50" width="4.00" height="4.00" fill="#2e7d32" stroke="none" stroke-width="0.5"/>
<rect x="126.80" y="557.84" width="4.00" height="4.00" fill="#2e7d32" stroke="none" stroke-width="0.5"/>
<rect x="138.40" y="564.42" width="4.00" height="4.00" fill="#2e7d32" stroke="none" stroke-width="0.5"/>
<rect x="150.00" y="560.89" width="4.00" height="4.00" fill="#2e7d32" stroke="none" stroke-width="0.5"/>
<rect x="161.60" y="555.96" width="4.00" height="4.00" fill="#2e7d32" stroke="none" stroke-width="0.5"/>
<rect x="173.20" y="543.03" width="4.00" height="4.00" fill="#2e7d32" stroke="none" stroke-width="0.5"/>
<rect x="184.80" y="542.33" width="4.00" height="4.00" fill="#2e7d32" stroke="none" stroke-width="0.5"/>
<text x="119.90" y="547.80" font-size="7.2" text-anchor="start" fill="#1e1c1c">0.041</text>
<text x="131.60" y="556.00" font-size="7.2" text-anchor="start" fill="#1e1c1c">0.029</text>
<text x="143.70" y="546.00" font-size="7.2" text-anchor="start" fill="#1e1c1c">0.018</text>
<text x="205.20" y="484.80" font-size="13" text-anchor="start" font-weight="bold" fill="#000">i</text>
<text x="306.20" y="488.70" font-size="9.7" text-anchor="middle" fill="#1e1c1c">DAI scoring</text>
<line x1="210.00" y1="499.20" x2="218.00" y2="499.20" stroke="#f0b43a" stroke-width="0.9"/>
<circle cx="214.00" cy="499.20" r="2.20" fill="#f0b43a" stroke="none" stroke-width="0.5"/>
<text x="220.50" y="501.30" font-size="6.5" text-anchor="start" fill="#1e1c1c">ABX CD4<tspan dy="-2.4" font-size="4.2">+</tspan><tspan dy="2.4">T → Rag2</tspan></text>
<line x1="290.70" y1="499.20" x2="298.70" y2="499.20" stroke="#2e7d32" stroke-width="0.9"/>
<rect x="292.50" y="497.00" width="4.40" height="4.40" fill="#2e7d32" stroke="none" stroke-width="0.5"/>
<text x="301.20" y="501.30" font-size="6.5" text-anchor="start" fill="#1e1c1c">ABX + IPA CD4<tspan dy="-2.4" font-size="4.2">+</tspan><tspan dy="2.4">T → Rag2</tspan></text>
<line x1="236.70" y1="512.60" x2="236.70" y2="606.00" stroke="#6b6b6b" stroke-width="0.8"/>
<line x1="233.30" y1="606.00" x2="236.70" y2="606.00" stroke="#6b6b6b" stroke-width="0.8"/>
<text x="230.70" y="608.60" font-size="7.5" text-anchor="end" fill="#1e1c1c">0</text>
<line x1="233.30" y1="592.70" x2="236.70" y2="592.70" stroke="#6b6b6b" stroke-width="0.8"/>
<text x="230.70" y="595.30" font-size="7.5" text-anchor="end" fill="#1e1c1c">0.5</text>
<line x1="233.30" y1="579.40" x2="236.70" y2="579.40" stroke="#6b6b6b" stroke-width="0.8"/>
<text x="230.70" y="582.00" font-size="7.5" text-anchor="end" fill="#1e1c1c">1.0</text>
<line x1="233.30" y1="566.10" x2="236.70" y2="566.10" stroke="#6b6b6b" stroke-width="0.8"/>
<text x="230.70" y="568.70" font-size="7.5" text-anchor="end" fill="#1e1c1c">1.5</text>
<line x1="233.30" y1="552.80" x2="236.70" y2="552.80" stroke="#6b6b6b" stroke-width="0.8"/>
<text x="230.70" y="555.40" font-size="7.5" text-anchor="end" fill="#1e1c1c">2.0</text>
<line x1="233.30" y1="539.50" x2="236.70" y2="539.50" stroke="#6b6b6b" stroke-width="0.8"/>
<text x="230.70" y="542.10" font-size="7.5" text-anchor="end" fill="#1e1c1c">2.5</text>
<line x1="233.30" y1="526.20" x2="236.70" y2="526.20" stroke="#6b6b6b" stroke-width="0.8"/>
<text x="230.70" y="528.80" font-size="7.5" text-anchor="end" fill="#1e1c1c">3.0</text>
<line x1="233.30" y1="512.90" x2="236.70" y2="512.90" stroke="#6b6b6b" stroke-width="0.8"/>
<text x="230.70" y="515.50" font-size="7.5" text-anchor="end" fill="#1e1c1c">3.5</text>
<line x1="236.70" y1="606.00" x2="375.70" y2="606.00" stroke="#6b6b6b" stroke-width="0.8"/>
<line x1="236.70" y1="606.00" x2="236.70" y2="608.20" stroke="#6b6b6b" stroke-width="0.8"/>
<text x="236.70" y="619.00" font-size="7.5" text-anchor="middle" fill="#1e1c1c">0</text>
<line x1="248.20" y1="606.00" x2="248.20" y2="608.20" stroke="#6b6b6b" stroke-width="0.8"/>
<text x="248.20" y="619.00" font-size="7.5" text-anchor="middle" fill="#1e1c1c">1</text>
<line x1="259.70" y1="606.00" x2="259.70" y2="608.20" stroke="#6b6b6b" stroke-width="0.8"/>
<text x="259.70" y="619.00" font-size="7.5" text-anchor="middle" fill="#1e1c1c">2</text>
<line x1="271.20" y1="606.00" x2="271.20" y2="608.20" stroke="#6b6b6b" stroke-width="0.8"/>
<text x="271.20" y="619.00" font-size="7.5" text-anchor="middle" fill="#1e1c1c">3</text>
<line x1="282.70" y1="606.00" x2="282.70" y2="608.20" stroke="#6b6b6b" stroke-width="0.8"/>
<text x="282.70" y="619.00" font-size="7.5" text-anchor="middle" fill="#1e1c1c">4</text>
<line x1="294.20" y1="606.00" x2="294.20" y2="608.20" stroke="#6b6b6b" stroke-width="0.8"/>
<text x="294.20" y="619.00" font-size="7.5" text-anchor="middle" fill="#1e1c1c">5</text>
<line x1="305.70" y1="606.00" x2="305.70" y2="608.20" stroke="#6b6b6b" stroke-width="0.8"/>
<text x="305.70" y="619.00" font-size="7.5" text-anchor="middle" fill="#1e1c1c">6</text>
<line x1="317.20" y1="606.00" x2="317.20" y2="608.20" stroke="#6b6b6b" stroke-width="0.8"/>
<text x="317.20" y="619.00" font-size="7.5" text-anchor="middle" fill="#1e1c1c">7</text>
<line x1="328.70" y1="606.00" x2="328.70" y2="608.20" stroke="#6b6b6b" stroke-width="0.8"/>
<text x="328.70" y="619.00" font-size="7.5" text-anchor="middle" fill="#1e1c1c">8</text>
<line x1="340.20" y1="606.00" x2="340.20" y2="608.20" stroke="#6b6b6b" stroke-width="0.8"/>
<text x="340.20" y="619.00" font-size="7.5" text-anchor="middle" fill="#1e1c1c">9</text>
<line x1="351.70" y1="606.00" x2="351.70" y2="608.20" stroke="#6b6b6b" stroke-width="0.8"/>
<text x="351.70" y="619.00" font-size="7.5" text-anchor="middle" fill="#1e1c1c">10</text>
<line x1="363.20" y1="606.00" x2="363.20" y2="608.20" stroke="#6b6b6b" stroke-width="0.8"/>
<text x="363.20" y="619.00" font-size="7.5" text-anchor="middle" fill="#1e1c1c">11</text>
<line x1="374.70" y1="606.00" x2="374.70" y2="608.20" stroke="#6b6b6b" stroke-width="0.8"/>
<text x="374.70" y="619.00" font-size="7.5" text-anchor="middle" fill="#1e1c1c">12</text>
<text x="305.70" y="631.10" font-size="8.5" text-anchor="middle" fill="#1e1c1c">Day</text>
<text transform="translate(212.00,559.00) rotate(-90)" font-size="9.2" text-anchor="middle" fill="#1e1c1c">DAI scoring</text>
<line x1="248.20" y1="604.94" x2="248.20" y2="606.00" stroke="#f6d38a" stroke-width="0.7"/>
<line x1="246.60" y1="604.94" x2="249.80" y2="604.94" stroke="#f6d38a" stroke-width="0.7"/>
<line x1="246.60" y1="606.00" x2="249.80" y2="606.00" stroke="#f6d38a" stroke-width="0.7"/>
<line x1="259.70" y1="603.87" x2="259.70" y2="605.47" stroke="#f6d38a" stroke-width="0.7"/>
<line x1="258.10" y1="603.87" x2="261.30" y2="603.87" stroke="#f6d38a" stroke-width="0.7"/>
<line x1="258.10" y1="605.47" x2="261.30" y2="605.47" stroke="#f6d38a" stroke-width="0.7"/>
<line x1="271.20" y1="591.37" x2="271.20" y2="598.82" stroke="#f6d38a" stroke-width="0.7"/>
<line x1="269.60" y1="591.37" x2="272.80" y2="591.37" stroke="#f6d38a" stroke-width="0.7"/>
<line x1="269.60" y1="598.82" x2="272.80" y2="598.82" stroke="#f6d38a" stroke-width="0.7"/>
<line x1="282.70" y1="577.27" x2="282.70" y2="586.32" stroke="#f6d38a" stroke-width="0.7"/>
<line x1="281.10" y1="577.27" x2="284.30" y2="577.27" stroke="#f6d38a" stroke-width="0.7"/>
<line x1="281.10" y1="586.32" x2="284.30" y2="586.32" stroke="#f6d38a" stroke-width="0.7"/>
<line x1="294.20" y1="550.67" x2="294.20" y2="562.91" stroke="#f6d38a" stroke-width="0.7"/>
<line x1="292.60" y1="550.67" x2="295.80" y2="550.67" stroke="#f6d38a" stroke-width="0.7"/>
<line x1="292.60" y1="562.91" x2="295.80" y2="562.91" stroke="#f6d38a" stroke-width="0.7"/>
<line x1="305.70" y1="531.79" x2="305.70" y2="544.02" stroke="#f6d38a" stroke-width="0.7"/>
<line x1="304.10" y1="531.79" x2="307.30" y2="531.79" stroke="#f6d38a" stroke-width="0.7"/>
<line x1="304.10" y1="544.02" x2="307.30" y2="544.02" stroke="#f6d38a" stroke-width="0.7"/>
<line x1="317.20" y1="525.14" x2="317.20" y2="535.78" stroke="#f6d38a" stroke-width="0.7"/>
<line x1="315.60" y1="525.14" x2="318.80" y2="525.14" stroke="#f6d38a" stroke-width="0.7"/>
<line x1="315.60" y1="535.78" x2="318.80" y2="535.78" stroke="#f6d38a" stroke-width="0.7"/>
<line x1="328.70" y1="534.98" x2="328.70" y2="545.09" stroke="#f6d38a" stroke-width="0.7"/>
<line x1="327.10" y1="534.98" x2="330.30" y2="534.98" stroke="#f6d38a" stroke-width="0.7"/>
<line x1="327.10" y1="545.09" x2="330.30" y2="545.09" stroke="#f6d38a" stroke-width="0.7"/>
<line x1="340.20" y1="548.54" x2="340.20" y2="552.80" stroke="#f6d38a" stroke-width="0.7"/>
<line x1="338.60" y1="548.54" x2="341.80" y2="548.54" stroke="#f6d38a" stroke-width="0.7"/>
<line x1="338.60" y1="552.80" x2="341.80" y2="552.80" stroke="#f6d38a" stroke-width="0.7"/>
<line x1="351.70" y1="560.51" x2="351.70" y2="570.62" stroke="#f6d38a" stroke-width="0.7"/>
<line x1="350.10" y1="560.51" x2="353.30" y2="560.51" stroke="#f6d38a" stroke-width="0.7"/>
<line x1="350.10" y1="570.62" x2="353.30" y2="570.62" stroke="#f6d38a" stroke-width="0.7"/>
<line x1="363.20" y1="564.24" x2="363.20" y2="579.13" stroke="#f6d38a" stroke-width="0.7"/>
<line x1="361.60" y1="564.24" x2="364.80" y2="564.24" stroke="#f6d38a" stroke-width="0.7"/>
<line x1="361.60" y1="579.13" x2="364.80" y2="579.13" stroke="#f6d38a" stroke-width="0.7"/>
<line x1="374.70" y1="575.68" x2="374.70" y2="583.66" stroke="#f6d38a" stroke-width="0.7"/>
<line x1="373.10" y1="575.68" x2="376.30" y2="575.68" stroke="#f6d38a" stroke-width="0.7"/>
<line x1="373.10" y1="583.66" x2="376.30" y2="583.66" stroke="#f6d38a" stroke-width="0.7"/>
<polyline points="236.70,606.00 248.20,605.47 259.70,604.67 271.20,595.09 282.70,581.79 294.20,556.79 305.70,537.90 317.20,530.46 328.70,540.03 340.20,550.67 351.70,565.57 363.20,571.69 374.70,579.67" fill="none" stroke="#f0b43a" stroke-width="1.0" stroke-linejoin="round"/>
<circle cx="236.70" cy="606.00" r="2.20" fill="#f0b43a" stroke="none" stroke-width="0.5"/>
<circle cx="248.20" cy="605.47" r="2.20" fill="#f0b43a" stroke="none" stroke-width="0.5"/>
<circle cx="259.70" cy="604.67" r="2.20" fill="#f0b43a" stroke="none" stroke-width="0.5"/>
<circle cx="271.20" cy="595.09" r="2.20" fill="#f0b43a" stroke="none" stroke-width="0.5"/>
<circle cx="282.70" cy="581.79" r="2.20" fill="#f0b43a" stroke="none" stroke-width="0.5"/>
<circle cx="294.20" cy="556.79" r="2.20" fill="#f0b43a" stroke="none" stroke-width="0.5"/>
<circle cx="305.70" cy="537.90" r="2.20" fill="#f0b43a" stroke="none" stroke-width="0.5"/>
<circle cx="317.20" cy="530.46" r="2.20" fill="#f0b43a" stroke="none" stroke-width="0.5"/>
<circle cx="328.70" cy="540.03" r="2.20" fill="#f0b43a" stroke="none" stroke-width="0.5"/>
<circle cx="340.20" cy="550.67" r="2.20" fill="#f0b43a" stroke="none" stroke-width="0.5"/>
<circle cx="351.70" cy="565.57" r="2.20" fill="#f0b43a" stroke="none" stroke-width="0.5"/>
<circle cx="363.20" cy="571.69" r="2.20" fill="#f0b43a" stroke="none" stroke-width="0.5"/>
<circle cx="374.70" cy="579.67" r="2.20" fill="#f0b43a" stroke="none" stroke-width="0.5"/>
<line x1="259.70" y1="604.94" x2="259.70" y2="606.00" stroke="#8cbf8a" stroke-width="0.7"/>
<line x1="258.10" y1="604.94" x2="261.30" y2="604.94" stroke="#8cbf8a" stroke-width="0.7"/>
<line x1="258.10" y1="606.00" x2="261.30" y2="606.00" stroke="#8cbf8a" stroke-width="0.7"/>
<line x1="271.20" y1="599.88" x2="271.20" y2="603.07" stroke="#8cbf8a" stroke-width="0.7"/>
<line x1="269.60" y1="599.88" x2="272.80" y2="599.88" stroke="#8cbf8a" stroke-width="0.7"/>
<line x1="269.60" y1="603.07" x2="272.80" y2="603.07" stroke="#8cbf8a" stroke-width="0.7"/>
<line x1="282.70" y1="598.29" x2="282.70" y2="602.01" stroke="#8cbf8a" stroke-width="0.7"/>
<line x1="281.10" y1="598.29" x2="284.30" y2="598.29" stroke="#8cbf8a" stroke-width="0.7"/>
<line x1="281.10" y1="602.01" x2="284.30" y2="602.01" stroke="#8cbf8a" stroke-width="0.7"/>
<line x1="294.20" y1="578.07" x2="294.20" y2="587.11" stroke="#8cbf8a" stroke-width="0.7"/>
<line x1="292.60" y1="578.07" x2="295.80" y2="578.07" stroke="#8cbf8a" stroke-width="0.7"/>
<line x1="292.60" y1="587.11" x2="295.80" y2="587.11" stroke="#8cbf8a" stroke-width="0.7"/>
<line x1="305.70" y1="557.85" x2="305.70" y2="573.28" stroke="#8cbf8a" stroke-width="0.7"/>
<line x1="304.10" y1="557.85" x2="307.30" y2="557.85" stroke="#8cbf8a" stroke-width="0.7"/>
<line x1="304.10" y1="573.28" x2="307.30" y2="573.28" stroke="#8cbf8a" stroke-width="0.7"/>
<line x1="317.20" y1="545.09" x2="317.20" y2="560.51" stroke="#8cbf8a" stroke-width="0.7"/>
<line x1="315.60" y1="545.09" x2="318.80" y2="545.09" stroke="#8cbf8a" stroke-width="0.7"/>
<line x1="315.60" y1="560.51" x2="318.80" y2="560.51" stroke="#8cbf8a" stroke-width="0.7"/>
<line x1="328.70" y1="555.46" x2="328.70" y2="570.36" stroke="#8cbf8a" stroke-width="0.7"/>
<line x1="327.10" y1="555.46" x2="330.30" y2="555.46" stroke="#8cbf8a" stroke-width="0.7"/>
<line x1="327.10" y1="570.36" x2="330.30" y2="570.36" stroke="#8cbf8a" stroke-width="0.7"/>
<line x1="340.20" y1="560.51" x2="340.20" y2="567.96" stroke="#8cbf8a" stroke-width="0.7"/>
<line x1="338.60" y1="560.51" x2="341.80" y2="560.51" stroke="#8cbf8a" stroke-width="0.7"/>
<line x1="338.60" y1="567.96" x2="341.80" y2="567.96" stroke="#8cbf8a" stroke-width="0.7"/>
<line x1="351.70" y1="567.43" x2="351.70" y2="579.67" stroke="#8cbf8a" stroke-width="0.7"/>
<line x1="350.10" y1="567.43" x2="353.30" y2="567.43" stroke="#8cbf8a" stroke-width="0.7"/>
<line x1="350.10" y1="579.67" x2="353.30" y2="579.67" stroke="#8cbf8a" stroke-width="0.7"/>
<line x1="363.20" y1="580.20" x2="363.20" y2="595.09" stroke="#8cbf8a" stroke-width="0.7"/>
<line x1="361.60" y1="580.20" x2="364.80" y2="580.20" stroke="#8cbf8a" stroke-width="0.7"/>
<line x1="361.60" y1="595.09" x2="364.80" y2="595.09" stroke="#8cbf8a" stroke-width="0.7"/>
<line x1="374.70" y1="579.67" x2="374.70" y2="587.65" stroke="#8cbf8a" stroke-width="0.7"/>
<line x1="373.10" y1="579.67" x2="376.30" y2="579.67" stroke="#8cbf8a" stroke-width="0.7"/>
<line x1="373.10" y1="587.65" x2="376.30" y2="587.65" stroke="#8cbf8a" stroke-width="0.7"/>
<polyline points="236.70,606.00 248.20,606.00 259.70,605.47 271.20,601.48 282.70,600.15 294.20,582.59 305.70,565.57 317.20,552.80 328.70,562.91 340.20,564.24 351.70,573.55 363.20,587.65 374.70,583.66" fill="none" stroke="#2e7d32" stroke-width="1.0" stroke-linejoin="round"/>
<rect x="234.70" y="604.00" width="4.00" height="4.00" fill="#2e7d32" stroke="none" stroke-width="0.5"/>
<rect x="246.20" y="604.00" width="4.00" height="4.00" fill="#2e7d32" stroke="none" stroke-width="0.5"/>
<rect x="257.70" y="603.47" width="4.00" height="4.00" fill="#2e7d32" stroke="none" stroke-width="0.5"/>
<rect x="269.20" y="599.48" width="4.00" height="4.00" fill="#2e7d32" stroke="none" stroke-width="0.5"/>
<rect x="280.70" y="598.15" width="4.00" height="4.00" fill="#2e7d32" stroke="none" stroke-width="0.5"/>
<rect x="292.20" y="580.59" width="4.00" height="4.00" fill="#2e7d32" stroke="none" stroke-width="0.5"/>
<rect x="303.70" y="563.57" width="4.00" height="4.00" fill="#2e7d32" stroke="none" stroke-width="0.5"/>
<rect x="315.20" y="550.80" width="4.00" height="4.00" fill="#2e7d32" stroke="none" stroke-width="0.5"/>
<rect x="326.70" y="560.91" width="4.00" height="4.00" fill="#2e7d32" stroke="none" stroke-width="0.5"/>
<rect x="338.20" y="562.24" width="4.00" height="4.00" fill="#2e7d32" stroke="none" stroke-width="0.5"/>
<rect x="349.70" y="571.55" width="4.00" height="4.00" fill="#2e7d32" stroke="none" stroke-width="0.5"/>
<rect x="361.20" y="585.65" width="4.00" height="4.00" fill="#2e7d32" stroke="none" stroke-width="0.5"/>
<rect x="372.70" y="581.66" width="4.00" height="4.00" fill="#2e7d32" stroke="none" stroke-width="0.5"/>
<text x="308.70" y="520.50" font-size="7.2" text-anchor="start" fill="#1e1c1c">0.010</text>
<text x="295.00" y="530.10" font-size="7.2" text-anchor="start" fill="#1e1c1c">0.014</text>
<text x="321.70" y="532.80" font-size="7.2" text-anchor="start" fill="#1e1c1c">0.022</text>
<text x="278.00" y="547.10" font-size="7.2" text-anchor="start" fill="#1e1c1c">0.0052</text>
<text x="335.70" y="545.00" font-size="7.2" text-anchor="start" fill="#1e1c1c">0.0077</text>
<text x="264.90" y="573.10" font-size="7.2" text-anchor="start" fill="#1e1c1c">0.0076</text>
<text x="398.50" y="164.70" font-size="13" text-anchor="start" font-weight="bold" fill="#000">e</text>
<text x="459.20" y="165.70" font-size="9.7" text-anchor="middle" fill="#1e1c1c">Colon length</text>
<rect x="436.70" y="230.68" width="18.20" height="57.72" fill="#f6dba0" stroke="#4a4a4a" stroke-width="0.6"/>
<rect x="464.20" y="222.10" width="17.80" height="66.30" fill="#2e7d32" stroke="#4a4a4a" stroke-width="0.6"/>
<line x1="445.80" y1="228.30" x2="445.80" y2="230.68" stroke="#444" stroke-width="0.6"/>
<line x1="441.30" y1="228.30" x2="450.30" y2="228.30" stroke="#444" stroke-width="0.6"/>
<line x1="472.90" y1="217.20" x2="472.90" y2="222.10" stroke="#444" stroke-width="0.6"/>
<line x1="468.40" y1="217.20" x2="477.40" y2="217.20" stroke="#444" stroke-width="0.6"/>
<line x1="426.80" y1="192.70" x2="426.80" y2="288.40" stroke="#6b6b6b" stroke-width="0.8"/>
<line x1="423.40" y1="288.40" x2="426.80" y2="288.40" stroke="#6b6b6b" stroke-width="0.8"/>
<text x="420.80" y="291.00" font-size="7.5" text-anchor="end" fill="#1e1c1c">0</text>
<line x1="423.40" y1="269.32" x2="426.80" y2="269.32" stroke="#6b6b6b" stroke-width="0.8"/>
<text x="420.80" y="271.92" font-size="7.5" text-anchor="end" fill="#1e1c1c">2</text>
<line x1="423.40" y1="250.24" x2="426.80" y2="250.24" stroke="#6b6b6b" stroke-width="0.8"/>
<text x="420.80" y="252.84" font-size="7.5" text-anchor="end" fill="#1e1c1c">4</text>
<line x1="423.40" y1="231.16" x2="426.80" y2="231.16" stroke="#6b6b6b" stroke-width="0.8"/>
<text x="420.80" y="233.76" font-size="7.5" text-anchor="end" fill="#1e1c1c">6</text>
<line x1="423.40" y1="212.08" x2="426.80" y2="212.08" stroke="#6b6b6b" stroke-width="0.8"/>
<text x="420.80" y="214.68" font-size="7.5" text-anchor="end" fill="#1e1c1c">8</text>
<line x1="423.40" y1="193.00" x2="426.80" y2="193.00" stroke="#6b6b6b" stroke-width="0.8"/>
<text x="420.80" y="195.60" font-size="7.5" text-anchor="end" fill="#1e1c1c">10</text>
<line x1="426.80" y1="288.40" x2="491.30" y2="288.40" stroke="#6b6b6b" stroke-width="0.8"/>
<line x1="445.80" y1="288.40" x2="445.80" y2="291.40" stroke="#6b6b6b" stroke-width="0.8"/>
<line x1="472.90" y1="288.40" x2="472.90" y2="291.40" stroke="#6b6b6b" stroke-width="0.8"/>
<text transform="translate(404.50,241.00) rotate(-90)" font-size="9.2" text-anchor="middle" fill="#1e1c1c">Colon length (cm)</text>
<circle cx="448.00" cy="220.40" r="1.90" fill="#f0b132" stroke="#9a7420" stroke-width="0.45"/>
<circle cx="443.30" cy="222.40" r="1.90" fill="#f0b132" stroke="#9a7420" stroke-width="0.45"/>
<circle cx="445.60" cy="226.40" r="1.90" fill="#f0b132" stroke="#9a7420" stroke-width="0.45"/>
<circle cx="438.40" cy="232.80" r="1.90" fill="#f0b132" stroke="#9a7420" stroke-width="0.45"/>
<circle cx="443.30" cy="233.70" r="1.90" fill="#f0b132" stroke="#9a7420" stroke-width="0.45"/>
<circle cx="448.00" cy="233.70" r="1.90" fill="#f0b132" stroke="#9a7420" stroke-width="0.45"/>
<circle cx="452.80" cy="234.60" r="1.90" fill="#f0b132" stroke="#9a7420" stroke-width="0.45"/>
<circle cx="445.60" cy="238.60" r="1.90" fill="#f0b132" stroke="#9a7420" stroke-width="0.45"/>
<circle cx="469.00" cy="210.50" r="1.90" fill="#a9d3a2" stroke="#2f5e30" stroke-width="0.45"/>
<circle cx="476.70" cy="209.00" r="1.90" fill="#a9d3a2" stroke="#2f5e30" stroke-width="0.45"/>
<circle cx="469.00" cy="221.10" r="1.90" fill="#a9d3a2" stroke="#2f5e30" stroke-width="0.45"/>
<circle cx="476.70" cy="221.10" r="1.90" fill="#a9d3a2" stroke="#2f5e30" stroke-width="0.45"/>
<circle cx="469.00" cy="235.60" r="1.90" fill="#a9d3a2" stroke="#2f5e30" stroke-width="0.45"/>
<circle cx="476.50" cy="234.90" r="1.90" fill="#a9d3a2" stroke="#2f5e30" stroke-width="0.45"/>
<text x="508.60" y="164.50" font-size="13" text-anchor="start" font-weight="bold" fill="#000">f</text>
<text x="570.20" y="165.80" font-size="9.7" text-anchor="middle" fill="#1e1c1c">Histology score</text>
<rect x="547.80" y="218.30" width="18.20" height="69.90" fill="#f6dba0" stroke="#4a4a4a" stroke-width="0.6"/>
<rect x="574.60" y="254.30" width="17.90" height="33.90" fill="#2e7d32" stroke="#4a4a4a" stroke-width="0.6"/>
<line x1="556.90" y1="215.20" x2="556.90" y2="218.30" stroke="#444" stroke-width="0.6"/>
<line x1="552.40" y1="215.20" x2="561.40" y2="215.20" stroke="#444" stroke-width="0.6"/>
<line x1="583.50" y1="242.50" x2="583.50" y2="254.30" stroke="#444" stroke-width="0.6"/>
<line x1="579.00" y1="242.50" x2="588.00" y2="242.50" stroke="#444" stroke-width="0.6"/>
<line x1="538.60" y1="193.30" x2="538.60" y2="288.20" stroke="#6b6b6b" stroke-width="0.8"/>
<line x1="535.20" y1="288.20" x2="538.60" y2="288.20" stroke="#6b6b6b" stroke-width="0.8"/>
<text x="532.60" y="290.80" font-size="7.5" text-anchor="end" fill="#1e1c1c">0</text>
<line x1="535.20" y1="264.55" x2="538.60" y2="264.55" stroke="#6b6b6b" stroke-width="0.8"/>
<text x="532.60" y="267.15" font-size="7.5" text-anchor="end" fill="#1e1c1c">10</text>
<line x1="535.20" y1="240.90" x2="538.60" y2="240.90" stroke="#6b6b6b" stroke-width="0.8"/>
<text x="532.60" y="243.50" font-size="7.5" text-anchor="end" fill="#1e1c1c">20</text>
<line x1="535.20" y1="217.25" x2="538.60" y2="217.25" stroke="#6b6b6b" stroke-width="0.8"/>
<text x="532.60" y="219.85" font-size="7.5" text-anchor="end" fill="#1e1c1c">30</text>
<line x1="535.20" y1="193.60" x2="538.60" y2="193.60" stroke="#6b6b6b" stroke-width="0.8"/>
<text x="532.60" y="196.20" font-size="7.5" text-anchor="end" fill="#1e1c1c">40</text>
<line x1="538.60" y1="288.20" x2="601.70" y2="288.20" stroke="#6b6b6b" stroke-width="0.8"/>
<line x1="556.90" y1="288.20" x2="556.90" y2="291.20" stroke="#6b6b6b" stroke-width="0.8"/>
<line x1="583.50" y1="288.20" x2="583.50" y2="291.20" stroke="#6b6b6b" stroke-width="0.8"/>
<text transform="translate(514.50,240.60) rotate(-90)" font-size="9.2" text-anchor="middle" fill="#1e1c1c">Scoring</text>
<path d="M556.20,206.50 L556.20,201.20 L583.30,201.20 L583.30,223.60" fill="none" stroke="#777" stroke-width="0.7"/>
<text x="570.20" y="198.60" font-size="6.5" text-anchor="middle" fill="#1e1c1c">0.048</text>
<circle cx="556.80" cy="212.50" r="1.90" fill="#f0b132" stroke="#9a7420" stroke-width="0.45"/>
<circle cx="552.80" cy="221.50" r="1.90" fill="#f0b132" stroke="#9a7420" stroke-width="0.45"/>
<circle cx="560.20" cy="219.60" r="1.90" fill="#f0b132" stroke="#9a7420" stroke-width="0.45"/>
<circle cx="583.30" cy="228.80" r="1.90" fill="#a9d3a2" stroke="#2f5e30" stroke-width="0.45"/>
<circle cx="583.30" cy="240.60" r="1.90" fill="#a9d3a2" stroke="#2f5e30" stroke-width="0.45"/>
<circle cx="583.30" cy="269.50" r="1.90" fill="#a9d3a2" stroke="#2f5e30" stroke-width="0.45"/>
<circle cx="583.30" cy="278.70" r="1.90" fill="#a9d3a2" stroke="#2f5e30" stroke-width="0.45"/>
<circle cx="609.60" cy="199.90" r="1.70" fill="#f0b132" stroke="#9a7420" stroke-width="0.45"/>
<circle cx="609.60" cy="211.70" r="1.70" fill="#2e7d32" stroke="#1f4f22" stroke-width="0.45"/>
<text x="614.80" y="202.20" font-size="6.2" text-anchor="start" fill="#1e1c1c">no-IPA CD4<tspan dy="-2.4" font-size="4.2">+</tspan><tspan dy="2.4"> T → Rag2</tspan></text>
<text x="614.80" y="214.00" font-size="6.2" text-anchor="start" fill="#1e1c1c">IPA CD4<tspan dy="-2.4" font-size="4.2">+</tspan><tspan dy="2.4"> T → Rag2</tspan></text>
<text x="395.70" y="486.10" font-size="13" text-anchor="start" font-weight="bold" fill="#000">k</text>
<text x="453.80" y="488.40" font-size="9.7" text-anchor="middle" fill="#1e1c1c">Colon length</text>
<rect x="431.20" y="529.80" width="17.80" height="77.30" fill="#f6dba0" stroke="#4a4a4a" stroke-width="0.6"/>
<rect x="458.50" y="526.90" width="17.30" height="80.20" fill="#2e7d32" stroke="#4a4a4a" stroke-width="0.6"/>
<line x1="440.10" y1="527.60" x2="440.10" y2="529.80" stroke="#444" stroke-width="0.6"/>
<line x1="435.60" y1="527.60" x2="444.60" y2="527.60" stroke="#444" stroke-width="0.6"/>
<line x1="467.20" y1="525.00" x2="467.20" y2="526.90" stroke="#444" stroke-width="0.6"/>
<line x1="462.70" y1="525.00" x2="471.70" y2="525.00" stroke="#444" stroke-width="0.6"/>
<line x1="422.50" y1="513.12" x2="422.50" y2="607.10" stroke="#6b6b6b" stroke-width="0.8"/>
<line x1="419.10" y1="607.10" x2="422.50" y2="607.10" stroke="#6b6b6b" stroke-width="0.8"/>
<text x="416.50" y="609.70" font-size="7.5" text-anchor="end" fill="#1e1c1c">0</text>
<line x1="419.10" y1="583.68" x2="422.50" y2="583.68" stroke="#6b6b6b" stroke-width="0.8"/>
<text x="416.50" y="586.28" font-size="7.5" text-anchor="end" fill="#1e1c1c">2</text>
<line x1="419.10" y1="560.26" x2="422.50" y2="560.26" stroke="#6b6b6b" stroke-width="0.8"/>
<text x="416.50" y="562.86" font-size="7.5" text-anchor="end" fill="#1e1c1c">4</text>
<line x1="419.10" y1="536.84" x2="422.50" y2="536.84" stroke="#6b6b6b" stroke-width="0.8"/>
<text x="416.50" y="539.44" font-size="7.5" text-anchor="end" fill="#1e1c1c">6</text>
<line x1="419.10" y1="513.42" x2="422.50" y2="513.42" stroke="#6b6b6b" stroke-width="0.8"/>
<text x="416.50" y="516.02" font-size="7.5" text-anchor="end" fill="#1e1c1c">8</text>
<line x1="422.50" y1="607.10" x2="485.10" y2="607.10" stroke="#6b6b6b" stroke-width="0.8"/>
<line x1="440.30" y1="607.10" x2="440.30" y2="610.10" stroke="#6b6b6b" stroke-width="0.8"/>
<line x1="467.30" y1="607.10" x2="467.30" y2="610.10" stroke="#6b6b6b" stroke-width="0.8"/>
<text transform="translate(401.50,560.10) rotate(-90)" font-size="9.2" text-anchor="middle" fill="#1e1c1c">Colon length (cm)</text>
<circle cx="433.10" cy="518.10" r="1.90" fill="#f0b132" stroke="#9a7420" stroke-width="0.45"/>
<circle cx="440.30" cy="521.00" r="1.90" fill="#f0b132" stroke="#9a7420" stroke-width="0.45"/>
<circle cx="433.10" cy="525.00" r="1.90" fill="#f0b132" stroke="#9a7420" stroke-width="0.45"/>
<circle cx="440.30" cy="526.20" r="1.90" fill="#f0b132" stroke="#9a7420" stroke-width="0.45"/>
<circle cx="433.10" cy="531.20" r="1.90" fill="#f0b132" stroke="#9a7420" stroke-width="0.45"/>
<circle cx="440.30" cy="532.10" r="1.90" fill="#f0b132" stroke="#9a7420" stroke-width="0.45"/>
<circle cx="433.10" cy="539.20" r="1.90" fill="#f0b132" stroke="#9a7420" stroke-width="0.45"/>
<circle cx="440.30" cy="536.90" r="1.90" fill="#f0b132" stroke="#9a7420" stroke-width="0.45"/>
<circle cx="447.10" cy="536.90" r="1.90" fill="#f0b132" stroke="#9a7420" stroke-width="0.45"/>
<circle cx="460.40" cy="519.10" r="1.90" fill="#a9d3a2" stroke="#2f5e30" stroke-width="0.45"/>
<circle cx="467.30" cy="522.20" r="1.90" fill="#a9d3a2" stroke="#2f5e30" stroke-width="0.45"/>
<circle cx="474.40" cy="519.10" r="1.90" fill="#a9d3a2" stroke="#2f5e30" stroke-width="0.45"/>
<circle cx="460.40" cy="528.60" r="1.90" fill="#a9d3a2" stroke="#2f5e30" stroke-width="0.45"/>
<circle cx="467.30" cy="530.90" r="1.90" fill="#a9d3a2" stroke="#2f5e30" stroke-width="0.45"/>
<circle cx="474.40" cy="530.90" r="1.90" fill="#a9d3a2" stroke="#2f5e30" stroke-width="0.45"/>
<circle cx="467.30" cy="539.20" r="1.90" fill="#a9d3a2" stroke="#2f5e30" stroke-width="0.45"/>
<text x="502.40" y="485.60" font-size="13" text-anchor="start" font-weight="bold" fill="#000">l</text>
<text x="565.30" y="488.90" font-size="9.7" text-anchor="middle" fill="#1e1c1c">Histology score</text>
<rect x="543.20" y="548.90" width="17.60" height="58.30" fill="#f6dba0" stroke="#4a4a4a" stroke-width="0.6"/>
<rect x="570.20" y="565.10" width="17.80" height="42.10" fill="#2e7d32" stroke="#4a4a4a" stroke-width="0.6"/>
<line x1="551.90" y1="544.30" x2="551.90" y2="548.90" stroke="#444" stroke-width="0.6"/>
<line x1="547.40" y1="544.30" x2="556.40" y2="544.30" stroke="#444" stroke-width="0.6"/>
<line x1="579.10" y1="560.70" x2="579.10" y2="565.10" stroke="#444" stroke-width="0.6"/>
<line x1="574.60" y1="560.70" x2="583.60" y2="560.70" stroke="#444" stroke-width="0.6"/>
<line x1="533.20" y1="512.10" x2="533.20" y2="607.20" stroke="#6b6b6b" stroke-width="0.8"/>
<line x1="529.80" y1="607.20" x2="533.20" y2="607.20" stroke="#6b6b6b" stroke-width="0.8"/>
<text x="527.20" y="609.80" font-size="7.5" text-anchor="end" fill="#1e1c1c">0</text>
<line x1="529.80" y1="583.50" x2="533.20" y2="583.50" stroke="#6b6b6b" stroke-width="0.8"/>
<text x="527.20" y="586.10" font-size="7.5" text-anchor="end" fill="#1e1c1c">10</text>
<line x1="529.80" y1="559.80" x2="533.20" y2="559.80" stroke="#6b6b6b" stroke-width="0.8"/>
<text x="527.20" y="562.40" font-size="7.5" text-anchor="end" fill="#1e1c1c">20</text>
<line x1="529.80" y1="536.10" x2="533.20" y2="536.10" stroke="#6b6b6b" stroke-width="0.8"/>
<text x="527.20" y="538.70" font-size="7.5" text-anchor="end" fill="#1e1c1c">30</text>
<line x1="529.80" y1="512.40" x2="533.20" y2="512.40" stroke="#6b6b6b" stroke-width="0.8"/>
<text x="527.20" y="515.00" font-size="7.5" text-anchor="end" fill="#1e1c1c">40</text>
<line x1="533.20" y1="607.20" x2="596.70" y2="607.20" stroke="#6b6b6b" stroke-width="0.8"/>
<line x1="551.30" y1="607.20" x2="551.30" y2="610.20" stroke="#6b6b6b" stroke-width="0.8"/>
<line x1="578.90" y1="607.20" x2="578.90" y2="610.20" stroke="#6b6b6b" stroke-width="0.8"/>
<text transform="translate(508.50,559.10) rotate(-90)" font-size="9.2" text-anchor="middle" fill="#1e1c1c">Scoring</text>
<path d="M551.30,525.40 L551.30,519.10 L578.90,519.10 L578.90,548.30" fill="none" stroke="#777" stroke-width="0.7"/>
<text x="565.10" y="517.00" font-size="6.5" text-anchor="middle" fill="#1e1c1c">0.0331</text>
<circle cx="551.30" cy="530.80" r="1.90" fill="#f0b132" stroke="#9a7420" stroke-width="0.45"/>
<circle cx="551.30" cy="547.80" r="1.90" fill="#f0b132" stroke="#9a7420" stroke-width="0.45"/>
<circle cx="548.10" cy="552.40" r="1.90" fill="#f0b132" stroke="#9a7420" stroke-width="0.45"/>
<circle cx="555.40" cy="554.50" r="1.90" fill="#f0b132" stroke="#9a7420" stroke-width="0.45"/>
<circle cx="548.10" cy="557.20" r="1.90" fill="#f0b132" stroke="#9a7420" stroke-width="0.45"/>
<circle cx="578.90" cy="552.40" r="1.90" fill="#a9d3a2" stroke="#2f5e30" stroke-width="0.45"/>
<circle cx="578.90" cy="557.00" r="1.90" fill="#a9d3a2" stroke="#2f5e30" stroke-width="0.45"/>
<circle cx="575.60" cy="569.40" r="1.90" fill="#a9d3a2" stroke="#2f5e30" stroke-width="0.45"/>
<circle cx="582.60" cy="571.50" r="1.90" fill="#a9d3a2" stroke="#2f5e30" stroke-width="0.45"/>
<circle cx="578.90" cy="576.10" r="1.90" fill="#a9d3a2" stroke="#2f5e30" stroke-width="0.45"/>
<circle cx="604.00" cy="520.80" r="1.70" fill="#f0b132" stroke="#9a7420" stroke-width="0.45"/>
<circle cx="604.00" cy="531.60" r="1.70" fill="#2e7d32" stroke="#1f4f22" stroke-width="0.45"/>
<text x="608.30" y="523.10" font-size="6.2" text-anchor="start" fill="#1e1c1c">ABX CD4<tspan dy="-2.4" font-size="4.2">+</tspan><tspan dy="2.4"> T → Rag2</tspan></text>
<text x="608.30" y="533.90" font-size="6.2" text-anchor="start" fill="#1e1c1c">ABX + IPA CD4<tspan dy="-2.4" font-size="4.2">+</tspan><tspan dy="2.4"> T → Rag2</tspan></text>
</svg></body></html>
